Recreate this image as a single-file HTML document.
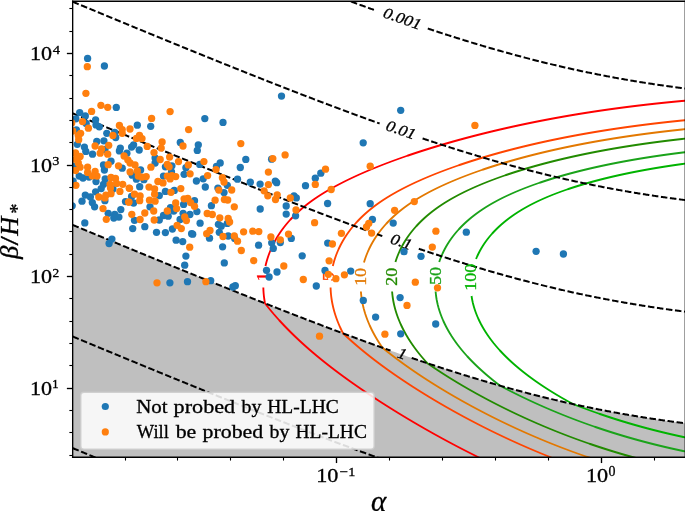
<!DOCTYPE html>
<html><head><meta charset="utf-8"><style>
html,body{margin:0;padding:0;background:#fff;}
body{width:685px;height:511px;overflow:hidden;font-family:"Liberation Serif",serif;}
svg{display:block;}
</style></head><body>
<svg width="685" height="511" viewBox="0 0 685 511" style="will-change:transform">
<defs><clipPath id="ax"><rect x="72.67" y="1.25" width="612.63" height="456"/></clipPath></defs>
<rect width="685" height="511" fill="#fff"/>
<g clip-path="url(#ax)">
<path d="M58.88 219.18 L61.52 220.28 L64.17 221.38 L66.81 222.48 L69.46 223.58 L72.1 224.68 L74.75 225.78 L77.39 226.88 L80.04 227.98 L82.68 229.08 L85.33 230.18 L87.97 231.28 L90.62 232.37 L93.26 233.47 L95.91 234.57 L98.55 235.67 L101.2 236.76 L103.84 237.86 L106.49 238.95 L109.13 240.05 L111.78 241.14 L114.42 242.24 L117.07 243.33 L119.71 244.42 L122.36 245.51 L125 246.61 L127.65 247.7 L130.29 248.79 L132.94 249.88 L135.58 250.97 L138.23 252.06 L140.87 253.15 L143.52 254.24 L146.16 255.32 L148.81 256.41 L151.45 257.5 L154.1 258.58 L156.74 259.67 L159.39 260.75 L162.03 261.84 L164.68 262.92 L167.32 264 L169.97 265.08 L172.61 266.17 L175.26 267.25 L177.9 268.33 L180.55 269.4 L183.19 270.48 L185.84 271.56 L188.48 272.64 L191.13 273.71 L193.77 274.79 L196.42 275.86 L199.06 276.93 L201.71 278.01 L204.35 279.08 L207 280.15 L209.64 281.22 L212.29 282.29 L214.93 283.35 L217.58 284.42 L220.22 285.49 L222.87 286.55 L225.51 287.61 L228.16 288.68 L230.8 289.74 L233.45 290.8 L236.09 291.86 L238.74 292.91 L241.38 293.97 L244.03 295.02 L246.67 296.08 L249.32 297.13 L251.96 298.18 L254.61 299.23 L257.25 300.28 L259.9 301.33 L262.54 302.37 L265.19 303.42 L267.83 304.46 L270.48 305.5 L273.12 306.54 L275.77 307.58 L278.41 308.62 L281.06 309.65 L283.7 310.68 L286.35 311.72 L288.99 312.75 L291.64 313.77 L294.28 314.8 L296.93 315.83 L299.57 316.85 L302.22 317.87 L304.86 318.89 L307.51 319.9 L310.15 320.92 L312.8 321.93 L315.44 322.94 L318.09 323.95 L320.73 324.96 L323.38 325.96 L326.02 326.96 L328.67 327.96 L331.31 328.96 L333.96 329.96 L336.6 330.95 L339.25 331.94 L341.89 332.93 L344.54 333.91 L347.18 334.9 L349.83 335.88 L352.47 336.85 L355.12 337.83 L357.76 338.8 L360.41 339.77 L363.05 340.74 L365.7 341.7 L368.34 342.66 L370.99 343.62 L373.63 344.57 L376.28 345.52 L378.92 346.47 L381.57 347.42 L384.21 348.36 L386.86 349.3 L389.5 350.23 L392.15 351.17 L394.79 352.09 L397.44 353.02 L400.08 353.94 L402.73 354.86 L405.37 355.77 L408.02 356.68 L410.66 357.59 L413.31 358.49 L415.95 359.39 L418.6 360.29 L421.24 361.18 L423.89 362.07 L426.53 362.95 L429.18 363.83 L431.82 364.7 L434.47 365.58 L437.11 366.44 L439.76 367.3 L442.4 368.16 L445.05 369.02 L447.69 369.86 L450.34 370.71 L452.98 371.55 L455.63 372.38 L458.27 373.21 L460.92 374.04 L463.56 374.86 L466.21 375.68 L468.85 376.49 L471.5 377.29 L474.14 378.09 L476.79 378.89 L479.43 379.68 L482.08 380.47 L484.72 381.25 L487.37 382.02 L490.01 382.79 L492.66 383.56 L495.3 384.32 L497.95 385.07 L500.59 385.82 L503.24 386.56 L505.88 387.3 L508.53 388.03 L511.17 388.76 L513.82 389.48 L516.46 390.19 L519.11 390.9 L521.75 391.6 L524.4 392.3 L527.04 392.99 L529.69 393.68 L532.33 394.36 L534.98 395.03 L537.62 395.7 L540.27 396.36 L542.91 397.02 L545.56 397.67 L548.2 398.31 L550.85 398.95 L553.49 399.58 L556.13 400.2 L558.78 400.82 L561.43 401.44 L564.07 402.04 L566.72 402.64 L569.36 403.24 L572.01 403.82 L574.65 404.41 L577.3 404.98 L579.94 405.55 L582.59 406.11 L585.23 406.67 L587.88 407.22 L590.52 407.77 L593.17 408.31 L595.81 408.84 L598.46 409.36 L601.1 409.88 L603.75 410.4 L606.39 410.9 L609.04 411.4 L611.68 411.9 L614.33 412.39 L616.97 412.87 L619.62 413.35 L622.26 413.82 L624.91 414.28 L627.55 414.74 L630.19 415.19 L632.84 415.64 L635.49 416.08 L638.13 416.51 L640.78 416.94 L643.42 417.36 L646.07 417.78 L648.71 418.19 L651.36 418.59 L654 418.99 L656.64 419.39 L659.29 419.77 L661.94 420.16 L664.58 420.53 L667.23 420.9 L669.87 421.27 L672.51 421.63 L675.16 421.98 L677.81 422.33 L680.45 422.68 L683.1 423.02 L685.74 423.35 L688.38 423.68 L691.03 424 L693.68 424.32 L693.68 470 L58.88 470 Z" fill="#bfbfbf"/>
<path d="M482 459 L480.98 458.5 L479.96 458 L478.95 457.5 L477.93 457 L476.92 456.5 L475.92 456 L474.91 455.5 L473.91 455 L472.91 454.5 L471.92 454 L470.93 453.5 L469.94 453 L468.95 452.5 L467.96 452 L466.98 451.5 L466 451 L465.03 450.5 L464.05 450 L463.08 449.5 L462.11 449 L461.14 448.5 L460.18 448 L459.22 447.5 L458.26 447 L457.3 446.5 L456.35 446 L455.4 445.5 L454.45 445 L453.5 444.5 L452.56 444 L451.62 443.5 L450.68 443 L449.74 442.5 L448.81 442 L447.88 441.5 L446.95 441 L446.02 440.5 L445.09 440 L444.17 439.5 L443.25 439 L442.33 438.5 L441.41 438 L440.5 437.5 L439.59 437 L438.68 436.5 L437.77 436 L436.87 435.5 L435.96 435 L435.06 434.5 L434.16 434 L433.27 433.5 L432.37 433 L431.48 432.5 L430.59 432 L429.7 431.5 L428.82 431 L427.93 430.5 L427.05 430 L426.17 429.5 L425.29 429 L424.42 428.5 L423.54 428 L422.67 427.5 L421.8 427 L420.93 426.5 L420.07 426 L419.2 425.5 L418.34 425 L417.48 424.5 L416.62 424 L415.77 423.5 L414.91 423 L414.06 422.5 L413.21 422 L412.36 421.5 L411.52 421 L410.67 420.5 L409.83 420 L408.99 419.5 L408.15 419 L407.31 418.5 L406.48 418 L405.64 417.5 L404.81 417 L403.98 416.5 L403.16 416 L402.33 415.5 L401.51 415 L400.68 414.5 L399.86 414 L399.04 413.5 L398.23 413 L397.41 412.5 L396.6 412 L395.79 411.5 L394.98 411 L394.17 410.5 L393.36 410 L392.56 409.5 L391.76 409 L390.96 408.5 L390.16 408 L389.36 407.5 L388.57 407 L387.77 406.5 L386.98 406 L386.19 405.5 L385.4 405 L384.61 404.5 L383.83 404 L383.05 403.5 L382.27 403 L381.49 402.5 L380.71 402 L379.93 401.5 L379.16 401 L378.38 400.5 L377.61 400 L376.84 399.5 L376.08 399 L375.31 398.5 L374.55 398 L373.78 397.5 L373.02 397 L372.27 396.5 L371.51 396 L370.75 395.5 L370 395 L369.25 394.5 L368.5 394 L367.75 393.5 L367.01 393 L366.26 392.5 L365.52 392 L364.78 391.5 L364.04 391 L363.3 390.5 L362.57 390 L361.83 389.5 L361.1 389 L360.37 388.5 L359.64 388 L358.92 387.5 L358.19 387 L357.47 386.5 L356.75 386 L356.03 385.5 L355.31 385 L354.6 384.5 L353.88 384 L353.17 383.5 L352.46 383 L351.75 382.5 L351.05 382 L350.34 381.5 L349.64 381 L348.94 380.5 L348.24 380 L347.54 379.5 L346.85 379 L346.16 378.5 L345.47 378 L344.78 377.5 L344.09 377 L343.4 376.5 L342.72 376 L342.04 375.5 L341.36 375 L340.68 374.5 L340.01 374 L339.33 373.5 L338.66 373 L337.99 372.5 L337.32 372 L336.66 371.5 L335.99 371 L335.33 370.5 L334.67 370 L334.01 369.5 L333.35 369 L332.7 368.5 L332.05 368 L331.4 367.5 L330.75 367 L330.1 366.5 L329.46 366 L328.81 365.5 L328.17 365 L327.54 364.5 L326.9 364 L326.27 363.5 L325.63 363 L325 362.5 L324.37 362 L323.75 361.5 L323.12 361 L322.5 360.5 L321.88 360 L321.26 359.5 L320.65 359 L320.03 358.5 L319.42 358 L318.81 357.5 L318.2 357 L317.6 356.5 L317 356 L316.39 355.5 L315.79 355 L315.2 354.5 L314.6 354 L314.01 353.5 L313.42 353 L312.83 352.5 L312.24 352 L311.66 351.5 L311.08 351 L310.5 350.5 L309.92 350 L309.34 349.5 L308.77 349 L308.2 348.5 L307.63 348 L307.06 347.5 L306.49 347 L305.93 346.5 L305.37 346 L304.81 345.5 L304.25 345 L303.7 344.5 L303.15 344 L302.59 343.5 L302.05 343 L301.5 342.5 L300.95 342 L300.41 341.5 L299.87 341 L299.33 340.5 L298.8 340 L298.26 339.5 L297.73 339 L297.2 338.5 L296.67 338 L296.14 337.5 L295.62 337 L295.1 336.5 L294.58 336 L294.06 335.5 L293.54 335 L293.03 334.5 L292.52 334 L292.01 333.5 L291.5 333 L290.99 332.5 L290.49 332 L289.99 331.5 L289.49 331 L288.99 330.5 L288.5 330 L288 329.5 L287.51 329 L287.02 328.5 L286.53 328 L286.05 327.5 L285.57 327 L285.08 326.5 L284.6 326 L284.13 325.5 L283.65 325 L283.18 324.5 L282.71 324 L282.24 323.5 L281.77 323 L281.31 322.5 L280.84 322 L280.38 321.5 L279.92 321 L279.46 320.5 L279.01 320 L278.56 319.5 L278.11 319 L277.66 318.5 L277.21 318 L276.76 317.5 L276.32 317 L275.88 316.5 L275.44 316 L275 315.5 L274.57 315 L274.14 314.5 L273.7 314 L273.28 313.5 L272.85 313 L272.42 312.5 L272 312 L271.58 311.5 L271.16 311 L270.74 310.5 L270.33 310 L269.92 309.5 L269.5 309 L269.1 308.5 L268.69 308 L268.28 307.5 L267.88 307 L267.48 306.5 L267.08 306 L266.68 305.5 L266.29 305 L265.9 304.5 L265.51 304 L265.12 303.5 L264.93 303 L264.84 302.5 L264.75 302 L264.67 301.5 L264.58 301 L264.5 300.5 L264.43 300 L264.35 299.5 L264.28 299 L264.21 298.5 L264.14 298 L264.07 297.5 L264.01 297 L263.95 296.5 L263.9 296 L263.84 295.5 L263.79 295 L263.74 294.5 L263.69 294 L263.65 293.5 L263.61 293 L263.57 292.5 L263.54 292 L263.5 291.5 L263.47 291 L263.44 290.5 L263.42 290 L263.4 289.5 L263.38 289 L263.36 288.5 L263.34 288 L263.33 287.5" fill="none" stroke="#ff0000" stroke-width="1.85" stroke-linejoin="round"/>
<path d="M265.48 266 L265.59 265.5 L265.71 265 L265.83 264.5 L265.95 264 L266.08 263.5 L266.21 263 L266.34 262.5 L266.48 262 L266.61 261.5 L266.76 261 L266.9 260.5 L267.05 260 L267.2 259.5 L267.35 259 L267.51 258.5 L267.67 258 L267.83 257.5 L267.99 257 L268.16 256.5 L268.33 256 L268.51 255.5 L268.69 255 L268.87 254.5 L269.05 254 L269.24 253.5 L269.43 253 L269.62 252.5 L269.82 252 L270.01 251.5 L270.22 251 L270.42 250.5 L270.63 250 L270.84 249.5 L271.06 249 L271.28 248.5 L271.5 248 L271.72 247.5 L271.95 247 L272.18 246.5 L272.42 246 L272.66 245.5 L272.9 245 L273.14 244.5 L273.39 244 L273.64 243.5 L273.9 243 L274.16 242.5 L274.42 242 L274.69 241.5 L274.96 241 L275.24 240.5 L275.52 240 L275.8 239.5 L276.08 239 L276.37 238.5 L276.67 238 L276.97 237.5 L277.27 237 L277.57 236.5 L277.88 236 L278.2 235.5 L278.51 235 L278.83 234.5 L279.16 234 L279.49 233.5 L279.82 233 L280.16 232.5 L280.5 232 L280.85 231.5 L281.2 231 L281.55 230.5 L281.91 230 L282.28 229.5 L282.65 229 L283.02 228.5 L283.39 228 L283.77 227.5 L284.16 227 L284.55 226.5 L284.94 226 L285.34 225.5 L285.75 225 L286.16 224.5 L286.57 224 L286.99 223.5 L287.41 223 L287.84 222.5 L288.27 222 L288.71 221.5 L289.15 221 L289.6 220.5 L290.05 220 L290.51 219.5 L290.97 219 L291.44 218.5 L291.91 218 L292.39 217.5 L292.88 217 L293.36 216.5 L293.86 216 L294.36 215.5 L294.87 215 L295.38 214.5 L295.9 214 L296.42 213.5 L296.95 213 L297.48 212.5 L298.02 212 L298.57 211.5 L299.12 211 L299.68 210.5 L300.25 210 L300.82 209.5 L301.4 209 L301.99 208.5 L302.58 208 L303.17 207.5 L303.78 207 L304.39 206.5 L305.01 206 L305.63 205.5 L306.27 205 L306.91 204.5 L307.55 204 L308.21 203.5 L308.87 203 L309.53 202.5 L310.21 202 L310.89 201.5 L311.58 201 L312.28 200.5 L312.99 200 L313.7 199.5 L314.42 199 L315.15 198.5 L315.88 198 L316.63 197.5 L317.38 197 L318.14 196.5 L318.9 196 L319.68 195.5 L320.46 195 L321.25 194.5 L322.04 194 L322.85 193.5 L323.66 193 L324.48 192.5 L325.31 192 L326.14 191.5 L326.99 191 L327.84 190.5 L328.7 190 L329.57 189.5 L330.44 189 L331.32 188.5 L332.22 188 L333.11 187.5 L334.02 187 L334.94 186.5 L335.86 186 L336.79 185.5 L337.73 185 L338.68 184.5 L339.63 184 L340.6 183.5 L341.57 183 L342.55 182.5 L343.53 182 L344.53 181.5 L345.53 181 L346.55 180.5 L347.57 180 L348.59 179.5 L349.63 179 L350.68 178.5 L351.73 178 L352.79 177.5 L353.86 177 L354.94 176.5 L356.03 176 L357.12 175.5 L358.23 175 L359.34 174.5 L360.46 174 L361.59 173.5 L362.72 173 L363.87 172.5 L365.02 172 L366.19 171.5 L367.36 171 L368.54 170.5 L369.73 170 L370.92 169.5 L372.13 169 L373.34 168.5 L374.57 168 L375.8 167.5 L377.04 167 L378.29 166.5 L379.55 166 L380.82 165.5 L382.09 165 L383.38 164.5 L384.67 164 L385.98 163.5 L387.29 163 L388.61 162.5 L389.94 162 L391.28 161.5 L392.63 161 L393.99 160.5 L395.36 160 L396.74 159.5 L398.13 159 L399.52 158.5 L400.93 158 L402.34 157.5 L403.77 157 L405.21 156.5 L406.65 156 L408.11 155.5 L409.57 155 L411.05 154.5 L412.53 154 L414.03 153.5 L415.54 153 L417.05 152.5 L418.58 152 L420.12 151.5 L421.67 151 L423.23 150.5 L424.8 150 L426.38 149.5 L427.97 149 L429.57 148.5 L431.19 148 L432.81 147.5 L434.45 147 L436.1 146.5 L437.76 146 L439.43 145.5 L441.11 145 L442.81 144.5 L444.52 144 L446.24 143.5 L447.97 143 L449.71 142.5 L451.47 142 L453.24 141.5 L455.03 141 L456.82 140.5 L458.63 140 L460.46 139.5 L462.3 139 L464.15 138.5 L466.01 138 L467.89 137.5 L469.79 137 L471.69 136.5 L473.62 136 L475.56 135.5 L477.51 135 L479.48 134.5 L481.47 134 L483.47 133.5 L485.49 133 L487.52 132.5 L489.58 132 L491.65 131.5 L493.73 131 L495.84 130.5 L497.96 130 L500.11 129.5 L502.27 129 L504.45 128.5 L506.65 128 L508.87 127.5 L511.12 127 L513.38 126.5 L515.67 126 L517.97 125.5 L520.3 125 L522.66 124.5 L525.04 124 L527.44 123.5 L529.87 123 L532.32 122.5 L534.8 122 L537.31 121.5 L539.84 121 L542.41 120.5 L545 120 L547.63 119.5 L550.28 119 L552.97 118.5 L555.69 118 L558.45 117.5 L561.24 117 L564.07 116.5 L566.93 116 L569.84 115.5 L572.78 115 L575.77 114.5 L578.8 114 L581.88 113.5 L585 113 L588.17 112.5 L591.4 112 L594.67 111.5 L598.01 111 L601.4 110.5 L604.84 110 L608.36 109.5 L611.93 109 L615.58 108.5 L619.3 108 L623.1 107.5 L626.97 107 L630.93 106.5 L634.98 106 L639.12 105.5 L643.36 105 L647.71 104.5 L652.17 104 L656.74 103.5 L661.45 103 L666.29 102.5 L671.27 102 L676.41 101.5 L681.72 101 L687.2 100.5 L692.89 100" fill="none" stroke="#ff0000" stroke-width="1.85" stroke-linejoin="round"/>
<path d="M555.05 459 L553.77 458.5 L552.49 458 L551.23 457.5 L549.97 457 L548.71 456.5 L547.46 456 L546.22 455.5 L544.99 455 L543.76 454.5 L542.53 454 L541.31 453.5 L540.1 453 L538.89 452.5 L537.69 452 L536.5 451.5 L535.31 451 L534.12 450.5 L532.94 450 L531.76 449.5 L530.59 449 L529.43 448.5 L528.27 448 L527.12 447.5 L525.97 447 L524.82 446.5 L523.68 446 L522.54 445.5 L521.41 445 L520.29 444.5 L519.17 444 L518.05 443.5 L516.94 443 L515.83 442.5 L514.72 442 L513.62 441.5 L512.53 441 L511.44 440.5 L510.35 440 L509.27 439.5 L508.19 439 L507.11 438.5 L506.04 438 L504.98 437.5 L503.91 437 L502.86 436.5 L501.8 436 L500.75 435.5 L499.7 435 L498.66 434.5 L497.62 434 L496.58 433.5 L495.55 433 L494.52 432.5 L493.5 432 L492.48 431.5 L491.46 431 L490.44 430.5 L489.43 430 L488.42 429.5 L487.42 429 L486.42 428.5 L485.42 428 L484.43 427.5 L483.44 427 L482.45 426.5 L481.47 426 L480.48 425.5 L479.51 425 L478.53 424.5 L477.56 424 L476.59 423.5 L475.63 423 L474.66 422.5 L473.71 422 L472.75 421.5 L471.8 421 L470.85 420.5 L469.9 420 L468.95 419.5 L468.01 419 L467.08 418.5 L466.14 418 L465.21 417.5 L464.28 417 L463.35 416.5 L462.43 416 L461.51 415.5 L460.59 415 L459.67 414.5 L458.76 414 L457.85 413.5 L456.94 413 L456.04 412.5 L455.13 412 L454.23 411.5 L453.34 411 L452.44 410.5 L451.55 410 L450.66 409.5 L449.78 409 L448.89 408.5 L448.01 408 L447.13 407.5 L446.26 407 L445.38 406.5 L444.51 406 L443.64 405.5 L442.78 405 L441.91 404.5 L441.05 404 L440.19 403.5 L439.34 403 L438.48 402.5 L437.63 402 L436.78 401.5 L435.94 401 L435.09 400.5 L434.25 400 L433.41 399.5 L432.58 399 L431.74 398.5 L430.91 398 L430.08 397.5 L429.25 397 L428.43 396.5 L427.61 396 L426.79 395.5 L425.97 395 L425.15 394.5 L424.34 394 L423.53 393.5 L422.72 393 L421.92 392.5 L421.11 392 L420.31 391.5 L419.51 391 L418.72 390.5 L417.92 390 L417.13 389.5 L416.34 389 L415.55 388.5 L414.77 388 L413.99 387.5 L413.21 387 L412.43 386.5 L411.65 386 L410.88 385.5 L410.11 385 L409.34 384.5 L408.57 384 L407.81 383.5 L407.05 383 L406.29 382.5 L405.53 382 L404.78 381.5 L404.03 381 L403.28 380.5 L402.53 380 L401.78 379.5 L401.04 379 L400.3 378.5 L399.56 378 L398.83 377.5 L398.09 377 L397.36 376.5 L396.63 376 L395.91 375.5 L395.18 375 L394.46 374.5 L393.74 374 L393.02 373.5 L392.31 373 L391.59 372.5 L390.88 372 L390.17 371.5 L389.47 371 L388.77 370.5 L388.06 370 L387.37 369.5 L386.67 369 L385.97 368.5 L385.28 368 L384.59 367.5 L383.91 367 L383.22 366.5 L382.54 366 L381.86 365.5 L381.18 365 L380.5 364.5 L379.83 364 L379.16 363.5 L378.49 363 L377.83 362.5 L377.16 362 L376.5 361.5 L375.84 361 L375.18 360.5 L374.53 360 L373.88 359.5 L373.23 359 L372.58 358.5 L371.94 358 L371.29 357.5 L370.65 357 L370.02 356.5 L369.38 356 L368.75 355.5 L368.12 355 L367.49 354.5 L366.86 354 L366.24 353.5 L365.62 353 L365 352.5 L364.38 352 L363.77 351.5 L363.16 351 L362.55 350.5 L361.94 350 L361.34 349.5 L360.74 349 L360.14 348.5 L359.54 348 L358.94 347.5 L358.35 347 L357.76 346.5 L357.17 346 L356.59 345.5 L356 345 L355.42 344.5 L354.84 344 L354.27 343.5 L353.69 343 L353.12 342.5 L352.55 342 L351.98 341.5 L351.42 341 L350.86 340.5 L350.29 340 L349.74 339.5 L349.18 339 L348.63 338.5 L348.07 338 L347.53 337.5 L346.98 337 L346.43 336.5 L345.89 336 L345.35 335.5 L344.81 335 L344.28 334.5 L343.74 334 L343.21 333.5 L342.88 333 L342.63 332.5 L342.37 332 L342.12 331.5 L341.87 331 L341.63 330.5 L341.39 330 L341.15 329.5 L340.91 329 L340.68 328.5 L340.44 328 L340.21 327.5 L339.99 327 L339.76 326.5 L339.54 326 L339.32 325.5 L339.11 325 L338.9 324.5 L338.69 324 L338.48 323.5 L338.27 323 L338.07 322.5 L337.87 322 L337.67 321.5 L337.48 321 L337.29 320.5 L337.1 320 L336.91 319.5 L336.73 319 L336.55 318.5 L336.37 318 L336.19 317.5 L336.02 317 L335.85 316.5 L335.68 316 L335.52 315.5 L335.35 315 L335.19 314.5 L335.04 314 L334.88 313.5 L334.73 313 L334.58 312.5 L334.43 312 L334.29 311.5 L334.15 311 L334.01 310.5 L333.88 310 L333.74 309.5 L333.61 309 L333.48 308.5 L333.36 308 L333.24 307.5 L333.12 307 L333 306.5 L332.89 306 L332.78 305.5 L332.67 305 L332.56 304.5 L332.46 304 L332.36 303.5 L332.26 303 L332.16 302.5 L332.07 302 L331.98 301.5 L331.89 301 L331.81 300.5 L331.73 300 L331.65 299.5 L331.57 299 L331.5 298.5 L331.43 298 L331.36 297.5 L331.3 297 L331.23 296.5 L331.17 296 L331.12 295.5 L331.06 295 L331.01 294.5 L330.96 294 L330.92 293.5 L330.87 293 L330.83 292.5 L330.8 292 L330.76 291.5 L330.73 291 L330.7 290.5 L330.67 290 L330.65 289.5 L330.63 289 L330.61 288.5 L330.6 288 L330.58 287.5" fill="none" stroke="#ff4500" stroke-width="1.85" stroke-linejoin="round"/>
<path d="M332.83 266 L332.95 265.5 L333.08 265 L333.2 264.5 L333.33 264 L333.46 263.5 L333.6 263 L333.74 262.5 L333.88 262 L334.02 261.5 L334.17 261 L334.32 260.5 L334.48 260 L334.64 259.5 L334.8 259 L334.96 258.5 L335.13 258 L335.3 257.5 L335.47 257 L335.65 256.5 L335.83 256 L336.01 255.5 L336.2 255 L336.39 254.5 L336.58 254 L336.78 253.5 L336.98 253 L337.18 252.5 L337.39 252 L337.59 251.5 L337.81 251 L338.02 250.5 L338.24 250 L338.46 249.5 L338.69 249 L338.92 248.5 L339.15 248 L339.39 247.5 L339.63 247 L339.87 246.5 L340.12 246 L340.37 245.5 L340.62 245 L340.88 244.5 L341.15 244 L341.41 243.5 L341.68 243 L341.95 242.5 L342.23 242 L342.51 241.5 L342.8 241 L343.09 240.5 L343.38 240 L343.68 239.5 L343.98 239 L344.29 238.5 L344.59 238 L344.91 237.5 L345.23 237 L345.55 236.5 L345.87 236 L346.2 235.5 L346.54 235 L346.88 234.5 L347.22 234 L347.57 233.5 L347.92 233 L348.28 232.5 L348.64 232 L349.01 231.5 L349.38 231 L349.75 230.5 L350.13 230 L350.51 229.5 L350.9 229 L351.29 228.5 L351.69 228 L352.1 227.5 L352.5 227 L352.92 226.5 L353.33 226 L353.76 225.5 L354.18 225 L354.62 224.5 L355.05 224 L355.5 223.5 L355.94 223 L356.4 222.5 L356.85 222 L357.32 221.5 L357.79 221 L358.26 220.5 L358.74 220 L359.23 219.5 L359.72 219 L360.21 218.5 L360.72 218 L361.22 217.5 L361.74 217 L362.26 216.5 L362.78 216 L363.32 215.5 L363.85 215 L364.4 214.5 L364.95 214 L365.51 213.5 L366.07 213 L366.64 212.5 L367.22 212 L367.8 211.5 L368.39 211 L368.98 210.5 L369.59 210 L370.2 209.5 L370.81 209 L371.44 208.5 L372.07 208 L372.71 207.5 L373.35 207 L374.01 206.5 L374.67 206 L375.34 205.5 L376.01 205 L376.7 204.5 L377.39 204 L378.09 203.5 L378.8 203 L379.51 202.5 L380.24 202 L380.97 201.5 L381.71 201 L382.46 200.5 L383.22 200 L383.98 199.5 L384.76 199 L385.54 198.5 L386.33 198 L387.13 197.5 L387.94 197 L388.76 196.5 L389.59 196 L390.42 195.5 L391.26 195 L392.12 194.5 L392.98 194 L393.85 193.5 L394.73 193 L395.61 192.5 L396.51 192 L397.42 191.5 L398.33 191 L399.26 190.5 L400.19 190 L401.13 189.5 L402.08 189 L403.04 188.5 L404.01 188 L404.99 187.5 L405.98 187 L406.98 186.5 L407.99 186 L409 185.5 L410.03 185 L411.07 184.5 L412.11 184 L413.17 183.5 L414.23 183 L415.31 182.5 L416.39 182 L417.48 181.5 L418.59 181 L419.7 180.5 L420.83 180 L421.96 179.5 L423.11 179 L424.26 178.5 L425.43 178 L426.6 177.5 L427.79 177 L428.98 176.5 L430.19 176 L431.41 175.5 L432.63 175 L433.87 174.5 L435.12 174 L436.38 173.5 L437.65 173 L438.93 172.5 L440.23 172 L441.53 171.5 L442.85 171 L444.17 170.5 L445.51 170 L446.86 169.5 L448.22 169 L449.59 168.5 L450.98 168 L452.37 167.5 L453.78 167 L455.2 166.5 L456.63 166 L458.07 165.5 L459.53 165 L461 164.5 L462.48 164 L463.98 163.5 L465.48 163 L467.01 162.5 L468.54 162 L470.09 161.5 L471.65 161 L473.22 160.5 L474.81 160 L476.41 159.5 L478.03 159 L479.66 158.5 L481.3 158 L482.96 157.5 L484.64 157 L486.32 156.5 L488.03 156 L489.75 155.5 L491.49 155 L493.24 154.5 L495.01 154 L496.79 153.5 L498.59 153 L500.41 152.5 L502.25 152 L504.1 151.5 L505.97 151 L507.86 150.5 L509.77 150 L511.7 149.5 L513.64 149 L515.61 148.5 L517.6 148 L519.6 147.5 L521.63 147 L523.68 146.5 L525.75 146 L527.84 145.5 L529.95 145 L532.09 144.5 L534.25 144 L536.43 143.5 L538.64 143 L540.88 142.5 L543.14 142 L545.42 141.5 L547.73 141 L550.08 140.5 L552.44 140 L554.84 139.5 L557.27 139 L559.73 138.5 L562.22 138 L564.74 137.5 L567.3 137 L569.89 136.5 L572.52 136 L575.18 135.5 L577.88 135 L580.63 134.5 L583.41 134 L586.23 133.5 L589.1 133 L592.01 132.5 L594.97 132 L597.98 131.5 L601.03 131 L604.14 130.5 L607.31 130 L610.53 129.5 L613.81 129 L617.15 128.5 L620.56 128 L624.03 127.5 L627.58 127 L631.2 126.5 L634.89 126 L638.67 125.5 L642.54 125 L646.49 124.5 L650.54 124 L654.7 123.5 L658.96 123 L663.34 122.5 L667.83 122 L672.46 121.5 L677.23 121 L682.14 120.5 L687.21 120 L692.46 119.5" fill="none" stroke="#ff4500" stroke-width="1.85" stroke-linejoin="round"/>
<path d="M593.36 459 L591.87 458.5 L590.39 458 L588.91 457.5 L587.45 457 L586 456.5 L584.55 456 L583.12 455.5 L581.69 455 L580.28 454.5 L578.87 454 L577.47 453.5 L576.08 453 L574.7 452.5 L573.32 452 L571.96 451.5 L570.6 451 L569.25 450.5 L567.91 450 L566.58 449.5 L565.25 449 L563.93 448.5 L562.62 448 L561.32 447.5 L560.02 447 L558.73 446.5 L557.45 446 L556.17 445.5 L554.9 445 L553.64 444.5 L552.39 444 L551.14 443.5 L549.89 443 L548.66 442.5 L547.43 442 L546.2 441.5 L544.98 441 L543.77 440.5 L542.56 440 L541.36 439.5 L540.17 439 L538.98 438.5 L537.8 438 L536.62 437.5 L535.44 437 L534.28 436.5 L533.12 436 L531.96 435.5 L530.81 435 L529.66 434.5 L528.52 434 L527.38 433.5 L526.25 433 L525.13 432.5 L524 432 L522.89 431.5 L521.78 431 L520.67 430.5 L519.57 430 L518.47 429.5 L517.37 429 L516.29 428.5 L515.2 428 L514.12 427.5 L513.05 427 L511.97 426.5 L510.91 426 L509.85 425.5 L508.79 425 L507.73 424.5 L506.68 424 L505.64 423.5 L504.59 423 L503.56 422.5 L502.52 422 L501.49 421.5 L500.46 421 L499.44 420.5 L498.42 420 L497.41 419.5 L496.4 419 L495.39 418.5 L494.39 418 L493.39 417.5 L492.39 417 L491.4 416.5 L490.41 416 L489.42 415.5 L488.44 415 L487.46 414.5 L486.48 414 L485.51 413.5 L484.54 413 L483.58 412.5 L482.62 412 L481.66 411.5 L480.7 411 L479.75 410.5 L478.8 410 L477.86 409.5 L476.92 409 L475.98 408.5 L475.04 408 L474.11 407.5 L473.18 407 L472.25 406.5 L471.33 406 L470.41 405.5 L469.49 405 L468.58 404.5 L467.67 404 L466.76 403.5 L465.85 403 L464.95 402.5 L464.05 402 L463.15 401.5 L462.26 401 L461.37 400.5 L460.48 400 L459.6 399.5 L458.71 399 L457.84 398.5 L456.96 398 L456.09 397.5 L455.22 397 L454.35 396.5 L453.48 396 L452.62 395.5 L451.76 395 L450.9 394.5 L450.05 394 L449.2 393.5 L448.35 393 L447.51 392.5 L446.66 392 L445.82 391.5 L444.99 391 L444.15 390.5 L443.32 390 L442.49 389.5 L441.67 389 L440.84 388.5 L440.02 388 L439.2 387.5 L438.39 387 L437.57 386.5 L436.76 386 L435.96 385.5 L435.15 385 L434.35 384.5 L433.55 384 L432.75 383.5 L431.96 383 L431.17 382.5 L430.38 382 L429.59 381.5 L428.81 381 L428.03 380.5 L427.25 380 L426.47 379.5 L425.7 379 L424.93 378.5 L424.16 378 L423.4 377.5 L422.63 377 L421.87 376.5 L421.11 376 L420.36 375.5 L419.61 375 L418.86 374.5 L418.11 374 L417.37 373.5 L416.62 373 L415.88 372.5 L415.15 372 L414.41 371.5 L413.68 371 L412.95 370.5 L412.22 370 L411.5 369.5 L410.78 369 L410.06 368.5 L409.34 368 L408.63 367.5 L407.92 367 L407.21 366.5 L406.5 366 L405.8 365.5 L405.1 365 L404.4 364.5 L403.7 364 L403.01 363.5 L402.32 363 L401.63 362.5 L400.94 362 L400.26 361.5 L399.58 361 L398.9 360.5 L398.23 360 L397.55 359.5 L396.88 359 L396.22 358.5 L395.55 358 L394.89 357.5 L394.23 357 L393.57 356.5 L392.91 356 L392.26 355.5 L391.61 355 L390.97 354.5 L390.32 354 L389.68 353.5 L389.04 353 L388.4 352.5 L387.77 352 L387.14 351.5 L386.51 351 L385.88 350.5 L385.25 350 L384.63 349.5 L384.01 349 L383.4 348.5 L382.78 348 L382.3 347.5 L381.95 347 L381.61 346.5 L381.27 346 L380.93 345.5 L380.6 345 L380.27 344.5 L379.94 344 L379.61 343.5 L379.29 343 L378.97 342.5 L378.65 342 L378.34 341.5 L378.03 341 L377.72 340.5 L377.41 340 L377.11 339.5 L376.81 339 L376.51 338.5 L376.21 338 L375.92 337.5 L375.63 337 L375.35 336.5 L375.06 336 L374.78 335.5 L374.5 335 L374.23 334.5 L373.95 334 L373.68 333.5 L373.42 333 L373.15 332.5 L372.89 332 L372.63 331.5 L372.38 331 L372.12 330.5 L371.87 330 L371.62 329.5 L371.38 329 L371.14 328.5 L370.9 328 L370.66 327.5 L370.43 327 L370.2 326.5 L369.97 326 L369.74 325.5 L369.52 325 L369.3 324.5 L369.08 324 L368.87 323.5 L368.66 323 L368.45 322.5 L368.24 322 L368.04 321.5 L367.84 321 L367.64 320.5 L367.44 320 L367.25 319.5 L367.06 319 L366.87 318.5 L366.69 318 L366.51 317.5 L366.33 317 L366.15 316.5 L365.98 316 L365.81 315.5 L365.64 315 L365.48 314.5 L365.31 314 L365.16 313.5 L365 313 L364.84 312.5 L364.69 312 L364.55 311.5 L364.4 311 L364.26 310.5 L364.12 310 L363.98 309.5 L363.85 309 L363.71 308.5 L363.59 308 L363.46 307.5 L363.34 307 L363.22 306.5 L363.1 306 L362.98 305.5 L362.87 305 L362.76 304.5 L362.66 304 L362.55 303.5 L362.45 303 L362.35 302.5 L362.26 302 L362.16 301.5 L362.07 301 L361.99 300.5 L361.9 300 L361.82 299.5 L361.74 299 L361.67 298.5 L361.6 298 L361.53 297.5 L361.46 297 L361.39 296.5 L361.33 296 L361.27 295.5 L361.22 295 L361.16 294.5 L361.11 294 L361.07 293.5 L361.02 293 L360.98 292.5 L360.94 292 L360.91 291.5" fill="none" stroke="#e37800" stroke-width="1.85" stroke-linejoin="round"/>
<path d="M363.98 262.5 L364.12 262 L364.27 261.5 L364.42 261 L364.58 260.5 L364.74 260 L364.9 259.5 L365.07 259 L365.24 258.5 L365.41 258 L365.59 257.5 L365.76 257 L365.95 256.5 L366.13 256 L366.32 255.5 L366.51 255 L366.71 254.5 L366.91 254 L367.11 253.5 L367.32 253 L367.53 252.5 L367.74 252 L367.96 251.5 L368.17 251 L368.4 250.5 L368.62 250 L368.85 249.5 L369.09 249 L369.32 248.5 L369.56 248 L369.81 247.5 L370.06 247 L370.31 246.5 L370.56 246 L370.82 245.5 L371.09 245 L371.35 244.5 L371.62 244 L371.9 243.5 L372.18 243 L372.46 242.5 L372.75 242 L373.04 241.5 L373.33 241 L373.63 240.5 L373.93 240 L374.24 239.5 L374.55 239 L374.87 238.5 L375.19 238 L375.51 237.5 L375.84 237 L376.18 236.5 L376.51 236 L376.86 235.5 L377.2 235 L377.55 234.5 L377.91 234 L378.27 233.5 L378.63 233 L379 232.5 L379.38 232 L379.75 231.5 L380.14 231 L380.53 230.5 L380.92 230 L381.32 229.5 L381.72 229 L382.13 228.5 L382.54 228 L382.96 227.5 L383.38 227 L383.81 226.5 L384.24 226 L384.68 225.5 L385.12 225 L385.57 224.5 L386.02 224 L386.48 223.5 L386.95 223 L387.42 222.5 L387.89 222 L388.38 221.5 L388.86 221 L389.36 220.5 L389.85 220 L390.36 219.5 L390.87 219 L391.38 218.5 L391.91 218 L392.44 217.5 L392.97 217 L393.51 216.5 L394.06 216 L394.61 215.5 L395.17 215 L395.74 214.5 L396.31 214 L396.89 213.5 L397.48 213 L398.07 212.5 L398.67 212 L399.28 211.5 L399.89 211 L400.51 210.5 L401.14 210 L401.78 209.5 L402.42 209 L403.08 208.5 L403.73 208 L404.4 207.5 L405.08 207 L405.76 206.5 L406.45 206 L407.15 205.5 L407.85 205 L408.57 204.5 L409.29 204 L410.03 203.5 L410.77 203 L411.52 202.5 L412.27 202 L413.04 201.5 L413.82 201 L414.6 200.5 L415.4 200 L416.2 199.5 L417.01 199 L417.83 198.5 L418.67 198 L419.51 197.5 L420.35 197 L421.21 196.5 L422.08 196 L422.96 195.5 L423.85 195 L424.74 194.5 L425.65 194 L426.57 193.5 L427.49 193 L428.43 192.5 L429.37 192 L430.33 191.5 L431.29 191 L432.27 190.5 L433.25 190 L434.25 189.5 L435.25 189 L436.27 188.5 L437.3 188 L438.33 187.5 L439.38 187 L440.44 186.5 L441.5 186 L442.58 185.5 L443.67 185 L444.77 184.5 L445.88 184 L447 183.5 L448.14 183 L449.28 182.5 L450.44 182 L451.6 181.5 L452.78 181 L453.97 180.5 L455.17 180 L456.38 179.5 L457.6 179 L458.84 178.5 L460.08 178 L461.34 177.5 L462.61 177 L463.9 176.5 L465.19 176 L466.5 175.5 L467.82 175 L469.15 174.5 L470.5 174 L471.85 173.5 L473.22 173 L474.61 172.5 L476 172 L477.41 171.5 L478.84 171 L480.27 170.5 L481.72 170 L483.19 169.5 L484.67 169 L486.16 168.5 L487.67 168 L489.19 167.5 L490.72 167 L492.27 166.5 L493.84 166 L495.42 165.5 L497.02 165 L498.63 164.5 L500.26 164 L501.9 163.5 L503.56 163 L505.24 162.5 L506.93 162 L508.64 161.5 L510.37 161 L512.11 160.5 L513.88 160 L515.66 159.5 L517.46 159 L519.28 158.5 L521.12 158 L522.97 157.5 L524.85 157 L526.75 156.5 L528.67 156 L530.61 155.5 L532.57 155 L534.55 154.5 L536.56 154 L538.58 153.5 L540.63 153 L542.71 152.5 L544.81 152 L546.93 151.5 L549.08 151 L551.26 150.5 L553.46 150 L555.69 149.5 L557.95 149 L560.24 148.5 L562.56 148 L564.9 147.5 L567.28 147 L569.69 146.5 L572.13 146 L574.61 145.5 L577.12 145 L579.67 144.5 L582.26 144 L584.88 143.5 L587.54 143 L590.25 142.5 L592.99 142 L595.78 141.5 L598.62 141 L601.5 140.5 L604.43 140 L607.41 139.5 L610.44 139 L613.53 138.5 L616.68 138 L619.88 137.5 L623.15 137 L626.48 136.5 L629.87 136 L633.34 135.5 L636.89 135 L640.51 134.5 L644.21 134 L648 133.5 L651.88 133 L655.85 132.5 L659.92 132 L664.11 131.5 L668.4 131 L672.82 130.5 L677.37 130 L682.05 129.5 L686.88 129 L691.87 128.5 L697.03 128" fill="none" stroke="#e37800" stroke-width="1.85" stroke-linejoin="round"/>
<path d="M639.56 459 L637.7 458.5 L635.85 458 L634.03 457.5 L632.22 457 L630.43 456.5 L628.65 456 L626.9 455.5 L625.15 455 L623.43 454.5 L621.72 454 L620.02 453.5 L618.34 453 L616.67 452.5 L615.02 452 L613.38 451.5 L611.75 451 L610.14 450.5 L608.54 450 L606.95 449.5 L605.38 449 L603.82 448.5 L602.26 448 L600.73 447.5 L599.2 447 L597.68 446.5 L596.18 446 L594.68 445.5 L593.2 445 L591.72 444.5 L590.26 444 L588.81 443.5 L587.37 443 L585.93 442.5 L584.51 442 L583.09 441.5 L581.69 441 L580.29 440.5 L578.9 440 L577.53 439.5 L576.16 439 L574.79 438.5 L573.44 438 L572.1 437.5 L570.76 437 L569.43 436.5 L568.11 436 L566.8 435.5 L565.49 435 L564.19 434.5 L562.9 434 L561.62 433.5 L560.35 433 L559.08 432.5 L557.81 432 L556.56 431.5 L555.31 431 L554.07 430.5 L552.83 430 L551.61 429.5 L550.38 429 L549.17 428.5 L547.96 428 L546.76 427.5 L545.56 427 L544.37 426.5 L543.18 426 L542 425.5 L540.83 425 L539.66 424.5 L538.5 424 L537.35 423.5 L536.19 423 L535.05 422.5 L533.91 422 L532.77 421.5 L531.65 421 L530.52 420.5 L529.4 420 L528.29 419.5 L527.18 419 L526.08 418.5 L524.98 418 L523.88 417.5 L522.79 417 L521.71 416.5 L520.63 416 L519.55 415.5 L518.48 415 L517.42 414.5 L516.36 414 L515.3 413.5 L514.25 413 L513.2 412.5 L512.16 412 L511.12 411.5 L510.08 411 L509.05 410.5 L508.03 410 L507 409.5 L505.99 409 L504.97 408.5 L503.96 408 L502.96 407.5 L501.95 407 L500.96 406.5 L499.96 406 L498.97 405.5 L497.98 405 L497 404.5 L496.02 404 L495.05 403.5 L494.08 403 L493.11 402.5 L492.15 402 L491.18 401.5 L490.23 401 L489.28 400.5 L488.33 400 L487.38 399.5 L486.44 399 L485.5 398.5 L484.56 398 L483.63 397.5 L482.7 397 L481.78 396.5 L480.86 396 L479.94 395.5 L479.03 395 L478.12 394.5 L477.21 394 L476.3 393.5 L475.4 393 L474.5 392.5 L473.61 392 L472.72 391.5 L471.83 391 L470.95 390.5 L470.07 390 L469.19 389.5 L468.31 389 L467.44 388.5 L466.57 388 L465.71 387.5 L464.85 387 L463.99 386.5 L463.13 386 L462.28 385.5 L461.43 385 L460.58 384.5 L459.74 384 L458.9 383.5 L458.06 383 L457.23 382.5 L456.4 382 L455.57 381.5 L454.75 381 L453.93 380.5 L453.11 380 L452.29 379.5 L451.48 379 L450.67 378.5 L449.86 378 L449.06 377.5 L448.26 377 L447.46 376.5 L446.67 376 L445.88 375.5 L445.09 375 L444.3 374.5 L443.52 374 L442.74 373.5 L441.96 373 L441.19 372.5 L440.42 372 L439.65 371.5 L438.88 371 L438.12 370.5 L437.36 370 L436.6 369.5 L435.85 369 L435.1 368.5 L434.35 368 L433.61 367.5 L432.86 367 L432.12 366.5 L431.39 366 L430.65 365.5 L429.92 365 L429.2 364.5 L428.47 364 L427.75 363.5 L427.15 363 L426.69 362.5 L426.24 362 L425.79 361.5 L425.34 361 L424.9 360.5 L424.46 360 L424.02 359.5 L423.59 359 L423.16 358.5 L422.73 358 L422.3 357.5 L421.88 357 L421.46 356.5 L421.04 356 L420.63 355.5 L420.22 355 L419.81 354.5 L419.41 354 L419.01 353.5 L418.61 353 L418.21 352.5 L417.82 352 L417.43 351.5 L417.05 351 L416.66 350.5 L416.28 350 L415.91 349.5 L415.53 349 L415.16 348.5 L414.79 348 L414.43 347.5 L414.07 347 L413.71 346.5 L413.35 346 L413 345.5 L412.65 345 L412.3 344.5 L411.96 344 L411.62 343.5 L411.28 343 L410.94 342.5 L410.61 342 L410.28 341.5 L409.96 341 L409.63 340.5 L409.31 340 L409 339.5 L408.68 339 L408.37 338.5 L408.06 338 L407.76 337.5 L407.46 337 L407.16 336.5 L406.86 336 L406.57 335.5 L406.27 335 L405.99 334.5 L405.7 334 L405.42 333.5 L405.14 333 L404.87 332.5 L404.59 332 L404.32 331.5 L404.05 331 L403.79 330.5 L403.53 330 L403.27 329.5 L403.01 329 L402.76 328.5 L402.51 328 L402.26 327.5 L402.02 327 L401.78 326.5 L401.54 326 L401.31 325.5 L401.07 325 L400.84 324.5 L400.62 324 L400.39 323.5 L400.17 323 L399.95 322.5 L399.74 322 L399.53 321.5 L399.32 321 L399.11 320.5 L398.91 320 L398.71 319.5 L398.51 319 L398.31 318.5 L398.12 318 L397.93 317.5 L397.75 317 L397.56 316.5 L397.38 316 L397.21 315.5 L397.03 315 L396.86 314.5 L396.69 314 L396.53 313.5 L396.36 313 L396.2 312.5 L396.05 312 L395.89 311.5 L395.74 311 L395.59 310.5 L395.45 310 L395.3 309.5 L395.16 309 L395.03 308.5 L394.89 308 L394.76 307.5 L394.63 307 L394.51 306.5 L394.38 306 L394.26 305.5 L394.15 305 L394.03 304.5 L393.92 304 L393.82 303.5 L393.71 303 L393.61 302.5 L393.51 302 L393.41 301.5 L393.32 301 L393.23 300.5 L393.14 300 L393.06 299.5 L392.98 299 L392.9 298.5 L392.82 298 L392.75 297.5 L392.68 297 L392.61 296.5 L392.55 296 L392.49 295.5 L392.43 295 L392.37 294.5 L392.32 294 L392.27 293.5 L392.23 293 L392.18 292.5 L392.14 292 L392.11 291.5" fill="none" stroke="#228b00" stroke-width="1.85" stroke-linejoin="round"/>
<path d="M395.45 262 L395.6 261.5 L395.76 261 L395.93 260.5 L396.09 260 L396.26 259.5 L396.43 259 L396.61 258.5 L396.79 258 L396.97 257.5 L397.16 257 L397.35 256.5 L397.54 256 L397.74 255.5 L397.94 255 L398.15 254.5 L398.35 254 L398.56 253.5 L398.78 253 L399 252.5 L399.22 252 L399.44 251.5 L399.67 251 L399.9 250.5 L400.14 250 L400.38 249.5 L400.62 249 L400.87 248.5 L401.12 248 L401.37 247.5 L401.63 247 L401.9 246.5 L402.16 246 L402.43 245.5 L402.71 245 L402.99 244.5 L403.27 244 L403.55 243.5 L403.85 243 L404.14 242.5 L404.44 242 L404.74 241.5 L405.05 241 L405.36 240.5 L405.68 240 L406 239.5 L406.33 239 L406.66 238.5 L406.99 238 L407.33 237.5 L407.68 237 L408.02 236.5 L408.38 236 L408.73 235.5 L409.1 235 L409.46 234.5 L409.84 234 L410.21 233.5 L410.59 233 L410.98 232.5 L411.37 232 L411.77 231.5 L412.17 231 L412.58 230.5 L412.99 230 L413.4 229.5 L413.83 229 L414.25 228.5 L414.68 228 L415.12 227.5 L415.57 227 L416.01 226.5 L416.47 226 L416.93 225.5 L417.39 225 L417.86 224.5 L418.34 224 L418.82 223.5 L419.31 223 L419.8 222.5 L420.3 222 L420.81 221.5 L421.32 221 L421.84 220.5 L422.36 220 L422.89 219.5 L423.43 219 L423.97 218.5 L424.52 218 L425.08 217.5 L425.64 217 L426.21 216.5 L426.79 216 L427.37 215.5 L427.96 215 L428.56 214.5 L429.16 214 L429.77 213.5 L430.39 213 L431.02 212.5 L431.65 212 L432.29 211.5 L432.94 211 L433.6 210.5 L434.26 210 L434.93 209.5 L435.62 209 L436.3 208.5 L437 208 L437.71 207.5 L438.42 207 L439.14 206.5 L439.88 206 L440.62 205.5 L441.37 205 L442.12 204.5 L442.89 204 L443.67 203.5 L444.45 203 L445.25 202.5 L446.06 202 L446.87 201.5 L447.7 201 L448.53 200.5 L449.38 200 L450.23 199.5 L451.1 199 L451.97 198.5 L452.86 198 L453.76 197.5 L454.66 197 L455.58 196.5 L456.51 196 L457.45 195.5 L458.39 195 L459.35 194.5 L460.32 194 L461.31 193.5 L462.3 193 L463.3 192.5 L464.31 192 L465.34 191.5 L466.38 191 L467.43 190.5 L468.48 190 L469.56 189.5 L470.64 189 L471.73 188.5 L472.84 188 L473.96 187.5 L475.09 187 L476.23 186.5 L477.39 186 L478.55 185.5 L479.73 185 L480.92 184.5 L482.13 184 L483.35 183.5 L484.58 183 L485.82 182.5 L487.08 182 L488.35 181.5 L489.63 181 L490.93 180.5 L492.24 180 L493.56 179.5 L494.9 179 L496.26 178.5 L497.62 178 L499 177.5 L500.4 177 L501.81 176.5 L503.24 176 L504.68 175.5 L506.14 175 L507.61 174.5 L509.1 174 L510.6 173.5 L512.12 173 L513.65 172.5 L515.21 172 L516.78 171.5 L518.36 171 L519.97 170.5 L521.59 170 L523.23 169.5 L524.89 169 L526.56 168.5 L528.26 168 L529.97 167.5 L531.71 167 L533.46 166.5 L535.23 166 L537.03 165.5 L538.84 165 L540.68 164.5 L542.53 164 L544.41 163.5 L546.31 163 L548.24 162.5 L550.19 162 L552.16 161.5 L554.15 161 L556.18 160.5 L558.22 160 L560.3 159.5 L562.4 159 L564.52 158.5 L566.68 158 L568.86 157.5 L571.08 157 L573.32 156.5 L575.6 156 L577.9 155.5 L580.24 155 L582.62 154.5 L585.03 154 L587.47 153.5 L589.95 153 L592.47 152.5 L595.03 152 L597.63 151.5 L600.28 151 L602.96 150.5 L605.69 150 L608.47 149.5 L611.3 149 L614.17 148.5 L617.1 148 L620.08 147.5 L623.12 147 L626.22 146.5 L629.38 146 L632.6 145.5 L635.88 145 L639.24 144.5 L642.67 144 L646.18 143.5 L649.77 143 L653.44 142.5 L657.2 142 L661.05 141.5 L665 141 L669.06 140.5 L673.23 140 L677.52 139.5 L681.93 139 L686.47 138.5 L691.16 138 L696 137.5" fill="none" stroke="#228b00" stroke-width="1.85" stroke-linejoin="round"/>
<path d="M690.36 452.5 L687.9 452 L685.48 451.5 L683.09 451 L680.74 450.5 L678.42 450 L676.13 449.5 L673.87 449 L671.65 448.5 L669.45 448 L667.28 447.5 L665.14 447 L663.02 446.5 L660.93 446 L658.87 445.5 L656.83 445 L654.82 444.5 L652.82 444 L650.85 443.5 L648.9 443 L646.98 442.5 L645.07 442 L643.18 441.5 L641.32 441 L639.47 440.5 L637.64 440 L635.83 439.5 L634.04 439 L632.27 438.5 L630.51 438 L628.77 437.5 L627.04 437 L625.33 436.5 L623.64 436 L621.96 435.5 L620.3 435 L618.65 434.5 L617.01 434 L615.39 433.5 L613.79 433 L612.19 432.5 L610.61 432 L609.04 431.5 L607.49 431 L605.95 430.5 L604.41 430 L602.9 429.5 L601.39 429 L599.89 428.5 L598.41 428 L596.93 427.5 L595.47 427 L594.02 426.5 L592.58 426 L591.15 425.5 L589.72 425 L588.31 424.5 L586.91 424 L585.52 423.5 L584.14 423 L582.76 422.5 L581.4 422 L580.04 421.5 L578.7 421 L577.36 420.5 L576.03 420 L574.71 419.5 L573.39 419 L572.09 418.5 L570.79 418 L569.5 417.5 L568.22 417 L566.95 416.5 L565.68 416 L564.43 415.5 L563.17 415 L561.93 414.5 L560.69 414 L559.47 413.5 L558.24 413 L557.03 412.5 L555.82 412 L554.62 411.5 L553.42 411 L552.23 410.5 L551.05 410 L549.87 409.5 L548.7 409 L547.54 408.5 L546.38 408 L545.23 407.5 L544.08 407 L542.94 406.5 L541.81 406 L540.68 405.5 L539.56 405 L538.44 404.5 L537.33 404 L536.22 403.5 L535.12 403 L534.03 402.5 L532.94 402 L531.85 401.5 L530.77 401 L529.7 400.5 L528.63 400 L527.57 399.5 L526.51 399 L525.46 398.5 L524.41 398 L523.36 397.5 L522.32 397 L521.29 396.5 L520.26 396 L519.24 395.5 L518.22 395 L517.2 394.5 L516.19 394 L515.19 393.5 L514.18 393 L513.19 392.5 L512.2 392 L511.21 391.5 L510.23 391 L509.25 390.5 L508.27 390 L507.3 389.5 L506.34 389 L505.37 388.5 L504.42 388 L503.46 387.5 L502.52 387 L501.57 386.5 L500.63 386 L499.77 385.5 L499.12 385 L498.47 384.5 L497.82 384 L497.17 383.5 L496.53 383 L495.9 382.5 L495.26 382 L494.63 381.5 L494.01 381 L493.38 380.5 L492.76 380 L492.14 379.5 L491.53 379 L490.92 378.5 L490.31 378 L489.71 377.5 L489.11 377 L488.51 376.5 L487.92 376 L487.33 375.5 L486.75 375 L486.16 374.5 L485.58 374 L485.01 373.5 L484.43 373 L483.86 372.5 L483.3 372 L482.74 371.5 L482.18 371 L481.62 370.5 L481.07 370 L480.52 369.5 L479.97 369 L479.43 368.5 L478.89 368 L478.36 367.5 L477.83 367 L477.3 366.5 L476.77 366 L476.25 365.5 L475.73 365 L475.22 364.5 L474.7 364 L474.2 363.5 L473.69 363 L473.19 362.5 L472.69 362 L472.2 361.5 L471.71 361 L471.22 360.5 L470.74 360 L470.26 359.5 L469.78 359 L469.3 358.5 L468.83 358 L468.37 357.5 L467.9 357 L467.44 356.5 L466.99 356 L466.54 355.5 L466.09 355 L465.64 354.5 L465.2 354 L464.76 353.5 L464.32 353 L463.89 352.5 L463.46 352 L463.04 351.5 L462.62 351 L462.2 350.5 L461.78 350 L461.37 349.5 L460.96 349 L460.56 348.5 L460.16 348 L459.76 347.5 L459.37 347 L458.98 346.5 L458.59 346 L458.2 345.5 L457.82 345 L457.45 344.5 L457.07 344 L456.7 343.5 L456.33 343 L455.97 342.5 L455.61 342 L455.25 341.5 L454.9 341 L454.55 340.5 L454.2 340 L453.85 339.5 L453.51 339 L453.17 338.5 L452.84 338 L452.51 337.5 L452.18 337 L451.86 336.5 L451.53 336 L451.22 335.5 L450.9 335 L450.59 334.5 L450.28 334 L449.98 333.5 L449.67 333 L449.37 332.5 L449.08 332 L448.79 331.5 L448.5 331 L448.21 330.5 L447.93 330 L447.65 329.5 L447.37 329 L447.1 328.5 L446.83 328 L446.56 327.5 L446.3 327 L446.04 326.5 L445.78 326 L445.53 325.5 L445.28 325 L445.03 324.5 L444.78 324 L444.54 323.5 L444.3 323 L444.07 322.5 L443.84 322 L443.61 321.5 L443.38 321 L443.16 320.5 L442.94 320 L442.72 319.5 L442.51 319 L442.3 318.5 L442.09 318 L441.89 317.5 L441.69 317 L441.49 316.5 L441.3 316 L441.11 315.5 L440.92 315 L440.73 314.5 L440.55 314 L440.37 313.5 L440.2 313 L440.03 312.5 L439.86 312 L439.69 311.5 L439.53 311 L439.37 310.5 L439.21 310 L439.06 309.5 L438.91 309 L438.76 308.5 L438.62 308 L438.47 307.5 L438.34 307 L438.2 306.5 L438.07 306 L437.94 305.5 L437.82 305 L437.69 304.5 L437.58 304 L437.46 303.5 L437.35 303 L437.24 302.5 L437.13 302 L437.03 301.5 L436.93 301 L436.83 300.5 L436.74 300 L436.64 299.5 L436.56 299 L436.47 298.5 L436.39 298 L436.31 297.5 L436.24 297 L436.17 296.5 L436.1 296 L436.03 295.5 L435.97 295 L435.91 294.5 L435.85 294 L435.8 293.5 L435.75 293 L435.71 292.5 L435.66 292 L435.62 291.5" fill="none" stroke="#1aa31a" stroke-width="1.85" stroke-linejoin="round"/>
<path d="M439.22 262 L439.38 261.5 L439.55 261 L439.73 260.5 L439.91 260 L440.09 259.5 L440.28 259 L440.46 258.5 L440.66 258 L440.86 257.5 L441.06 257 L441.26 256.5 L441.47 256 L441.68 255.5 L441.9 255 L442.12 254.5 L442.34 254 L442.57 253.5 L442.8 253 L443.03 252.5 L443.27 252 L443.52 251.5 L443.76 251 L444.01 250.5 L444.27 250 L444.53 249.5 L444.79 249 L445.05 248.5 L445.33 248 L445.6 247.5 L445.88 247 L446.16 246.5 L446.45 246 L446.74 245.5 L447.04 245 L447.34 244.5 L447.65 244 L447.96 243.5 L448.27 243 L448.59 242.5 L448.91 242 L449.24 241.5 L449.58 241 L449.91 240.5 L450.26 240 L450.61 239.5 L450.96 239 L451.32 238.5 L451.68 238 L452.05 237.5 L452.42 237 L452.8 236.5 L453.18 236 L453.57 235.5 L453.96 235 L454.36 234.5 L454.76 234 L455.17 233.5 L455.59 233 L456.01 232.5 L456.43 232 L456.86 231.5 L457.3 231 L457.74 230.5 L458.19 230 L458.64 229.5 L459.1 229 L459.57 228.5 L460.04 228 L460.52 227.5 L461 227 L461.49 226.5 L461.99 226 L462.49 225.5 L463 225 L463.51 224.5 L464.03 224 L464.56 223.5 L465.09 223 L465.63 222.5 L466.18 222 L466.73 221.5 L467.29 221 L467.86 220.5 L468.44 220 L469.02 219.5 L469.61 219 L470.2 218.5 L470.81 218 L471.42 217.5 L472.04 217 L472.66 216.5 L473.3 216 L473.94 215.5 L474.59 215 L475.25 214.5 L475.91 214 L476.59 213.5 L477.27 213 L477.96 212.5 L478.66 212 L479.37 211.5 L480.09 211 L480.82 210.5 L481.55 210 L482.3 209.5 L483.05 209 L483.82 208.5 L484.59 208 L485.38 207.5 L486.17 207 L486.98 206.5 L487.79 206 L488.61 205.5 L489.45 205 L490.3 204.5 L491.15 204 L492.02 203.5 L492.9 203 L493.79 202.5 L494.7 202 L495.61 201.5 L496.54 201 L497.48 200.5 L498.43 200 L499.39 199.5 L500.36 199 L501.35 198.5 L502.35 198 L503.36 197.5 L504.39 197 L505.43 196.5 L506.48 196 L507.54 195.5 L508.62 195 L509.71 194.5 L510.81 194 L511.93 193.5 L513.06 193 L514.21 192.5 L515.37 192 L516.54 191.5 L517.73 191 L518.93 190.5 L520.15 190 L521.38 189.5 L522.63 189 L523.89 188.5 L525.17 188 L526.47 187.5 L527.78 187 L529.1 186.5 L530.45 186 L531.8 185.5 L533.18 185 L534.57 184.5 L535.98 184 L537.41 183.5 L538.86 183 L540.32 182.5 L541.8 182 L543.3 181.5 L544.82 181 L546.36 180.5 L547.92 180 L549.5 179.5 L551.09 179 L552.71 178.5 L554.35 178 L556.01 177.5 L557.69 177 L559.4 176.5 L561.12 176 L562.87 175.5 L564.65 175 L566.44 174.5 L568.26 174 L570.11 173.5 L571.98 173 L573.88 172.5 L575.8 172 L577.75 171.5 L579.73 171 L581.73 170.5 L583.77 170 L585.83 169.5 L587.93 169 L590.05 168.5 L592.21 168 L594.4 167.5 L596.63 167 L598.89 166.5 L601.19 166 L603.52 165.5 L605.89 165 L608.3 164.5 L610.75 164 L613.25 163.5 L615.78 163 L618.36 162.5 L620.99 162 L623.67 161.5 L626.39 161 L629.17 160.5 L632 160 L634.88 159.5 L637.83 159 L640.83 158.5 L643.9 158 L647.03 157.5 L650.23 157 L653.5 156.5 L656.85 156 L660.27 155.5 L663.78 155 L667.38 154.5 L671.06 154 L674.85 153.5 L678.73 153 L682.73 152.5 L686.83 152 L691.06 151.5 L695.43 151" fill="none" stroke="#1aa31a" stroke-width="1.85" stroke-linejoin="round"/>
<path d="M690.54 438.5 L688.11 438 L685.72 437.5 L683.37 437 L681.05 436.5 L678.76 436 L676.51 435.5 L674.28 435 L672.09 434.5 L669.92 434 L667.78 433.5 L665.67 433 L663.59 432.5 L661.53 432 L659.49 431.5 L657.48 431 L655.5 430.5 L653.53 430 L651.59 429.5 L649.67 429 L647.77 428.5 L645.9 428 L644.04 427.5 L642.2 427 L640.38 426.5 L638.58 426 L636.8 425.5 L635.03 425 L633.29 424.5 L631.56 424 L629.84 423.5 L628.14 423 L626.46 422.5 L624.79 422 L623.14 421.5 L621.51 421 L619.88 420.5 L618.28 420 L616.68 419.5 L615.1 419 L613.54 418.5 L611.98 418 L610.44 417.5 L608.91 417 L607.4 416.5 L605.89 416 L604.4 415.5 L602.92 415 L601.45 414.5 L599.99 414 L598.54 413.5 L597.11 413 L595.68 412.5 L594.27 412 L592.86 411.5 L591.47 411 L590.08 410.5 L588.71 410 L587.34 409.5 L585.98 409 L584.64 408.5 L583.3 408 L581.97 407.5 L580.65 407 L579.34 406.5 L578.04 406 L576.74 405.5 L575.46 405 L574.18 404.5 L572.95 404 L572.02 403.5 L571.09 403 L570.18 402.5 L569.26 402 L568.36 401.5 L567.46 401 L566.56 400.5 L565.67 400 L564.78 399.5 L563.9 399 L563.03 398.5 L562.16 398 L561.29 397.5 L560.43 397 L559.58 396.5 L558.73 396 L557.88 395.5 L557.04 395 L556.2 394.5 L555.37 394 L554.55 393.5 L553.73 393 L552.91 392.5 L552.1 392 L551.29 391.5 L550.49 391 L549.7 390.5 L548.9 390 L548.12 389.5 L547.33 389 L546.55 388.5 L545.78 388 L545.01 387.5 L544.25 387 L543.49 386.5 L542.73 386 L541.98 385.5 L541.23 385 L540.49 384.5 L539.75 384 L539.02 383.5 L538.29 383 L537.57 382.5 L536.85 382 L536.13 381.5 L535.42 381 L534.71 380.5 L534.01 380 L533.31 379.5 L532.62 379 L531.93 378.5 L531.24 378 L530.56 377.5 L529.89 377 L529.21 376.5 L528.55 376 L527.88 375.5 L527.22 375 L526.57 374.5 L525.92 374 L525.27 373.5 L524.63 373 L523.99 372.5 L523.35 372 L522.72 371.5 L522.1 371 L521.47 370.5 L520.86 370 L520.24 369.5 L519.63 369 L519.03 368.5 L518.43 368 L517.83 367.5 L517.24 367 L516.65 366.5 L516.06 366 L515.48 365.5 L514.9 365 L514.33 364.5 L513.76 364 L513.2 363.5 L512.64 363 L512.08 362.5 L511.53 362 L510.98 361.5 L510.44 361 L509.9 360.5 L509.36 360 L508.83 359.5 L508.3 359 L507.78 358.5 L507.26 358 L506.74 357.5 L506.23 357 L505.72 356.5 L505.22 356 L504.72 355.5 L504.22 355 L503.73 354.5 L503.24 354 L502.76 353.5 L502.28 353 L501.81 352.5 L501.33 352 L500.87 351.5 L500.4 351 L499.94 350.5 L499.49 350 L499.04 349.5 L498.59 349 L498.14 348.5 L497.7 348 L497.27 347.5 L496.84 347 L496.41 346.5 L495.98 346 L495.56 345.5 L495.14 345 L494.73 344.5 L494.32 344 L493.92 343.5 L493.51 343 L493.12 342.5 L492.72 342 L492.33 341.5 L491.94 341 L491.56 340.5 L491.18 340 L490.8 339.5 L490.43 339 L490.06 338.5 L489.7 338 L489.34 337.5 L488.98 337 L488.62 336.5 L488.27 336 L487.93 335.5 L487.58 335 L487.24 334.5 L486.91 334 L486.58 333.5 L486.25 333 L485.92 332.5 L485.6 332 L485.28 331.5 L484.97 331 L484.66 330.5 L484.35 330 L484.05 329.5 L483.75 329 L483.45 328.5 L483.16 328 L482.87 327.5 L482.58 327 L482.3 326.5 L482.02 326 L481.74 325.5 L481.47 325 L481.2 324.5 L480.94 324 L480.67 323.5 L480.42 323 L480.16 322.5 L479.91 322 L479.66 321.5 L479.42 321 L479.18 320.5 L478.94 320 L478.7 319.5 L478.47 319 L478.25 318.5 L478.02 318 L477.8 317.5 L477.59 317 L477.37 316.5 L477.16 316 L476.96 315.5 L476.75 315 L476.55 314.5 L476.36 314 L476.16 313.5 L475.97 313 L475.79 312.5 L475.6 312 L475.42 311.5 L475.25 311 L475.08 310.5 L474.91 310 L474.74 309.5 L474.58 309 L474.42 308.5 L474.26 308 L474.11 307.5 L473.96 307 L473.82 306.5 L473.68 306 L473.54 305.5 L473.4 305 L473.27 304.5 L473.14 304 L473.02 303.5 L472.89 303 L472.78 302.5 L472.66 302 L472.55 301.5 L472.44 301 L472.34 300.5 L472.24 300 L472.14 299.5 L472.04 299 L471.95 298.5 L471.86 298 L471.78 297.5 L471.7 297 L471.62 296.5 L471.55 296" fill="none" stroke="#00b300" stroke-width="1.85" stroke-linejoin="round"/>
<path d="M476.06 259 L476.26 258.5 L476.47 258 L476.68 257.5 L476.9 257 L477.12 256.5 L477.35 256 L477.58 255.5 L477.81 255 L478.05 254.5 L478.29 254 L478.54 253.5 L478.79 253 L479.04 252.5 L479.3 252 L479.56 251.5 L479.83 251 L480.1 250.5 L480.38 250 L480.66 249.5 L480.94 249 L481.23 248.5 L481.52 248 L481.82 247.5 L482.13 247 L482.43 246.5 L482.75 246 L483.06 245.5 L483.39 245 L483.71 244.5 L484.04 244 L484.38 243.5 L484.72 243 L485.07 242.5 L485.42 242 L485.78 241.5 L486.14 241 L486.51 240.5 L486.88 240 L487.26 239.5 L487.65 239 L488.04 238.5 L488.43 238 L488.83 237.5 L489.24 237 L489.65 236.5 L490.07 236 L490.49 235.5 L490.92 235 L491.36 234.5 L491.8 234 L492.24 233.5 L492.7 233 L493.16 232.5 L493.62 232 L494.09 231.5 L494.57 231 L495.06 230.5 L495.55 230 L496.04 229.5 L496.55 229 L497.06 228.5 L497.57 228 L498.1 227.5 L498.63 227 L499.17 226.5 L499.71 226 L500.26 225.5 L500.82 225 L501.39 224.5 L501.96 224 L502.54 223.5 L503.13 223 L503.72 222.5 L504.33 222 L504.94 221.5 L505.56 221 L506.18 220.5 L506.82 220 L507.46 219.5 L508.11 219 L508.77 218.5 L509.44 218 L510.12 217.5 L510.8 217 L511.5 216.5 L512.2 216 L512.91 215.5 L513.63 215 L514.37 214.5 L515.11 214 L515.86 213.5 L516.62 213 L517.39 212.5 L518.17 212 L518.96 211.5 L519.76 211 L520.58 210.5 L521.4 210 L522.23 209.5 L523.08 209 L523.94 208.5 L524.8 208 L525.68 207.5 L526.58 207 L527.48 206.5 L528.4 206 L529.33 205.5 L530.27 205 L531.22 204.5 L532.19 204 L533.18 203.5 L534.17 203 L535.18 202.5 L536.2 202 L537.24 201.5 L538.3 201 L539.36 200.5 L540.44 200 L541.54 199.5 L542.65 199 L543.78 198.5 L544.93 198 L546.09 197.5 L547.26 197 L548.45 196.5 L549.66 196 L550.89 195.5 L552.13 195 L553.39 194.5 L554.67 194 L555.96 193.5 L557.27 193 L558.6 192.5 L559.95 192 L561.32 191.5 L562.71 191 L564.12 190.5 L565.54 190 L566.99 189.5 L568.46 189 L569.94 188.5 L571.45 188 L572.98 187.5 L574.54 187 L576.11 186.5 L577.71 186 L579.33 185.5 L580.98 185 L582.64 184.5 L584.34 184 L586.06 183.5 L587.8 183 L589.57 182.5 L591.37 182 L593.2 181.5 L595.05 181 L596.93 180.5 L598.84 180 L600.78 179.5 L602.76 179 L604.76 178.5 L606.8 178 L608.87 177.5 L610.97 177 L613.11 176.5 L615.29 176 L617.5 175.5 L619.76 175 L622.05 174.5 L624.38 174 L626.76 173.5 L629.17 173 L631.64 172.5 L634.15 172 L636.71 171.5 L639.32 171 L641.98 170.5 L644.69 170 L647.46 169.5 L650.29 169 L653.18 168.5 L656.13 168 L659.15 167.5 L662.23 167 L665.39 166.5 L668.62 166 L671.93 165.5 L675.33 165 L678.81 164.5 L682.38 164 L686.05 163.5 L689.82 163 L693.7 162.5" fill="none" stroke="#00b300" stroke-width="1.85" stroke-linejoin="round"/>
<path d="M351 1.51 L352 1.88 L353 2.25 L354 2.62 L355 2.99 L356 3.35 L357 3.72 L358 4.09 L359 4.46 L360 4.82 L361 5.19 L362 5.55 L363 5.92 L364 6.28 L365 6.65 L366 7.01 L367 7.37 L368 7.74 L369 8.1 L370 8.46 L371 8.82 L372 9.18 L373 9.55 L373.9 9.87" fill="none" stroke="#000" stroke-width="2.0" stroke-dasharray="6.5 2.6"/>
<path d="M427.8 28.57 L428.8 28.91 L429.8 29.24 L430.8 29.57 L431.8 29.9 L432.8 30.23 L433.8 30.56 L434.8 30.89 L435.8 31.21 L436.8 31.54 L437.8 31.87 L438.8 32.19 L439.8 32.52 L440.8 32.84 L441.8 33.17 L442.8 33.49 L443.8 33.81 L444.8 34.14 L445.8 34.46 L446.8 34.78 L447.8 35.1 L448.8 35.42 L449.8 35.74 L450.8 36.06 L451.8 36.37 L452.8 36.69 L453.8 37.01 L454.8 37.32 L455.8 37.64 L456.8 37.95 L457.8 38.27 L458.8 38.58 L459.8 38.89 L460.8 39.2 L461.8 39.51 L462.8 39.82 L463.8 40.13 L464.8 40.44 L465.8 40.75 L466.8 41.06 L467.8 41.37 L468.8 41.67 L469.8 41.98 L470.8 42.28 L471.8 42.59 L472.8 42.89 L473.8 43.19 L474.8 43.49 L475.8 43.79 L476.8 44.09 L477.8 44.39 L478.8 44.69 L479.8 44.99 L480.8 45.29 L481.8 45.59 L482.8 45.88 L483.8 46.18 L484.8 46.47 L485.8 46.76 L486.8 47.06 L487.8 47.35 L488.8 47.64 L489.8 47.93 L490.8 48.22 L491.8 48.51 L492.8 48.8 L493.8 49.09 L494.8 49.37 L495.8 49.66 L496.8 49.94 L497.8 50.23 L498.8 50.51 L499.8 50.8 L500.8 51.08 L501.8 51.36 L502.8 51.64 L503.8 51.92 L504.8 52.2 L505.8 52.48 L506.8 52.75 L507.8 53.03 L508.8 53.31 L509.8 53.58 L510.8 53.86 L511.8 54.13 L512.8 54.4 L513.8 54.67 L514.8 54.94 L515.8 55.21 L516.8 55.48 L517.8 55.75 L518.8 56.02 L519.8 56.29 L520.8 56.55 L521.8 56.82 L522.8 57.08 L523.8 57.34 L524.8 57.61 L525.8 57.87 L526.8 58.13 L527.8 58.39 L528.8 58.65 L529.8 58.91 L530.8 59.16 L531.8 59.42 L532.8 59.68 L533.8 59.93 L534.8 60.19 L535.8 60.44 L536.8 60.69 L537.8 60.94 L538.8 61.19 L539.8 61.44 L540.8 61.69 L541.8 61.94 L542.8 62.19 L543.8 62.44 L544.8 62.68 L545.8 62.93 L546.8 63.17 L547.8 63.41 L548.8 63.65 L549.8 63.9 L550.8 64.14 L551.8 64.38 L552.8 64.61 L553.8 64.85 L554.8 65.09 L555.8 65.32 L556.8 65.56 L557.8 65.79 L558.8 66.03 L559.8 66.26 L560.8 66.49 L561.8 66.72 L562.8 66.95 L563.8 67.18 L564.8 67.41 L565.8 67.64 L566.8 67.86 L567.8 68.09 L568.8 68.31 L569.8 68.53 L570.8 68.76 L571.8 68.98 L572.8 69.2 L573.8 69.42 L574.8 69.64 L575.8 69.86 L576.8 70.07 L577.8 70.29 L578.8 70.51 L579.8 70.72 L580.8 70.94 L581.8 71.15 L582.8 71.36 L583.8 71.57 L584.8 71.78 L585.8 71.99 L586.8 72.2 L587.8 72.41 L588.8 72.61 L589.8 72.82 L590.8 73.02 L591.8 73.23 L592.8 73.43 L593.8 73.63 L594.8 73.83 L595.8 74.04 L596.8 74.23 L597.8 74.43 L598.8 74.63 L599.8 74.83 L600.8 75.02 L601.8 75.22 L602.8 75.41 L603.8 75.61 L604.8 75.8 L605.8 75.99 L606.8 76.18 L607.8 76.37 L608.8 76.56 L609.8 76.75 L610.8 76.93 L611.8 77.12 L612.8 77.31 L613.8 77.49 L614.8 77.67 L615.8 77.86 L616.8 78.04 L617.8 78.22 L618.8 78.4 L619.8 78.58 L620.8 78.76 L621.8 78.94 L622.8 79.11 L623.8 79.29 L624.8 79.46 L625.8 79.64 L626.8 79.81 L627.8 79.98 L628.8 80.15 L629.8 80.32 L630.8 80.49 L631.8 80.66 L632.8 80.83 L633.8 81 L634.8 81.16 L635.8 81.33 L636.8 81.49 L637.8 81.66 L638.8 81.82 L639.8 81.98 L640.8 82.14 L641.8 82.3 L642.8 82.46 L643.8 82.62 L644.8 82.78 L645.8 82.94 L646.8 83.09 L647.8 83.25 L648.8 83.4 L649.8 83.56 L650.8 83.71 L651.8 83.86 L652.8 84.01 L653.8 84.16 L654.8 84.31 L655.8 84.46 L656.8 84.61 L657.8 84.76 L658.8 84.9 L659.8 85.05 L660.8 85.19 L661.8 85.34 L662.8 85.48 L663.8 85.62 L664.8 85.76 L665.8 85.9 L666.8 86.04 L667.8 86.18 L668.8 86.32 L669.8 86.46 L670.8 86.6 L671.8 86.73 L672.8 86.87 L673.8 87 L674.8 87.14 L675.8 87.27 L676.8 87.4 L677.8 87.53 L678.8 87.66 L679.8 87.79 L680.8 87.92 L681.8 88.05 L682.8 88.18 L683.8 88.3 L684.8 88.43 L685.8 88.56 L686.8 88.68 L687.8 88.8 L688.3 88.87" fill="none" stroke="#000" stroke-width="2.0" stroke-dasharray="6.5 2.6"/>
<path d="M72.67 1.72 L73.67 2.14 L74.67 2.55 L75.67 2.97 L76.67 3.38 L77.67 3.8 L78.67 4.21 L79.67 4.63 L80.67 5.05 L81.67 5.46 L82.67 5.88 L83.67 6.29 L84.67 6.71 L85.67 7.12 L86.67 7.54 L87.67 7.95 L88.67 8.37 L89.67 8.78 L90.67 9.2 L91.67 9.61 L92.67 10.03 L93.67 10.44 L94.67 10.86 L95.67 11.27 L96.67 11.69 L97.67 12.1 L98.67 12.52 L99.67 12.93 L100.67 13.34 L101.67 13.76 L102.67 14.17 L103.67 14.59 L104.67 15 L105.67 15.41 L106.67 15.83 L107.67 16.24 L108.67 16.66 L109.67 17.07 L110.67 17.48 L111.67 17.9 L112.67 18.31 L113.67 18.73 L114.67 19.14 L115.67 19.55 L116.67 19.97 L117.67 20.38 L118.67 20.79 L119.67 21.21 L120.67 21.62 L121.67 22.03 L122.67 22.44 L123.67 22.86 L124.67 23.27 L125.67 23.68 L126.67 24.1 L127.67 24.51 L128.67 24.92 L129.67 25.33 L130.67 25.75 L131.67 26.16 L132.67 26.57 L133.67 26.98 L134.67 27.39 L135.67 27.81 L136.67 28.22 L137.67 28.63 L138.67 29.04 L139.67 29.45 L140.67 29.87 L141.67 30.28 L142.67 30.69 L143.67 31.1 L144.67 31.51 L145.67 31.92 L146.67 32.33 L147.67 32.74 L148.67 33.15 L149.67 33.57 L150.67 33.98 L151.67 34.39 L152.67 34.8 L153.67 35.21 L154.67 35.62 L155.67 36.03 L156.67 36.44 L157.67 36.85 L158.67 37.26 L159.67 37.67 L160.67 38.08 L161.67 38.49 L162.67 38.9 L163.67 39.31 L164.67 39.72 L165.67 40.13 L166.67 40.54 L167.67 40.95 L168.67 41.35 L169.67 41.76 L170.67 42.17 L171.67 42.58 L172.67 42.99 L173.67 43.4 L174.67 43.81 L175.67 44.22 L176.67 44.62 L177.67 45.03 L178.67 45.44 L179.67 45.85 L180.67 46.26 L181.67 46.66 L182.67 47.07 L183.67 47.48 L184.67 47.89 L185.67 48.29 L186.67 48.7 L187.67 49.11 L188.67 49.51 L189.67 49.92 L190.67 50.33 L191.67 50.73 L192.67 51.14 L193.67 51.55 L194.67 51.95 L195.67 52.36 L196.67 52.76 L197.67 53.17 L198.67 53.58 L199.67 53.98 L200.67 54.39 L201.67 54.79 L202.67 55.2 L203.67 55.6 L204.67 56.01 L205.67 56.41 L206.67 56.82 L207.67 57.22 L208.67 57.63 L209.67 58.03 L210.67 58.43 L211.67 58.84 L212.67 59.24 L213.67 59.65 L214.67 60.05 L215.67 60.45 L216.67 60.86 L217.67 61.26 L218.67 61.66 L219.67 62.06 L220.67 62.47 L221.67 62.87 L222.67 63.27 L223.67 63.67 L224.67 64.08 L225.67 64.48 L226.67 64.88 L227.67 65.28 L228.67 65.68 L229.67 66.08 L230.67 66.48 L231.67 66.89 L232.67 67.29 L233.67 67.69 L234.67 68.09 L235.67 68.49 L236.67 68.89 L237.67 69.29 L238.67 69.69 L239.67 70.09 L240.67 70.49 L241.67 70.88 L242.67 71.28 L243.67 71.68 L244.67 72.08 L245.67 72.48 L246.67 72.88 L247.67 73.28 L248.67 73.67 L249.67 74.07 L250.67 74.47 L251.67 74.87 L252.67 75.26 L253.67 75.66 L254.67 76.06 L255.67 76.45 L256.67 76.85 L257.67 77.25 L258.67 77.64 L259.67 78.04 L260.67 78.43 L261.67 78.83 L262.67 79.22 L263.67 79.62 L264.67 80.01 L265.67 80.41 L266.67 80.8 L267.67 81.2 L268.67 81.59 L269.67 81.98 L270.67 82.38 L271.67 82.77 L272.67 83.16 L273.67 83.56 L274.67 83.95 L275.67 84.34 L276.67 84.73 L277.67 85.13 L278.67 85.52 L279.67 85.91 L280.67 86.3 L281.67 86.69 L282.67 87.08 L283.67 87.47 L284.67 87.86 L285.67 88.25 L286.67 88.64 L287.67 89.03 L288.67 89.42 L289.67 89.81 L290.67 90.2 L291.67 90.59 L292.67 90.98 L293.67 91.36 L294.67 91.75 L295.67 92.14 L296.67 92.53 L297.67 92.91 L298.67 93.3 L299.67 93.69 L300.67 94.07 L301.67 94.46 L302.67 94.84 L303.67 95.23 L304.67 95.61 L305.67 96 L306.67 96.38 L307.67 96.77 L308.67 97.15 L309.67 97.54 L310.67 97.92 L311.67 98.3 L312.67 98.68 L313.67 99.07 L314.67 99.45 L315.67 99.83 L316.67 100.21 L317.67 100.59 L318.67 100.97 L319.67 101.35 L320.67 101.74 L321.67 102.12 L322.67 102.49 L323.67 102.87 L324.67 103.25 L325.67 103.63 L326.67 104.01 L327.67 104.39 L328.67 104.77 L329.67 105.14 L330.67 105.52 L331.67 105.9 L332.67 106.27 L333.67 106.65 L334.67 107.03 L335.67 107.4 L336.67 107.78 L337.67 108.15 L338.67 108.52 L339.67 108.9 L340.67 109.27 L341.67 109.65 L342.67 110.02 L343.67 110.39 L344.67 110.76 L345.67 111.14 L346.67 111.51 L347.67 111.88 L348.67 112.25 L349.67 112.62 L350.67 112.99 L351.67 113.36 L352.67 113.73 L353.67 114.1 L354.67 114.46 L355.67 114.83 L356.67 115.2 L357.67 115.57 L358.67 115.93 L359.67 116.3 L360.67 116.67 L361.67 117.03 L362.67 117.4 L363.67 117.76 L364.67 118.13 L365.67 118.49 L366.67 118.85 L367.67 119.22 L368.67 119.58 L369.67 119.94 L370.67 120.3 L371.67 120.67 L372.67 121.03 L373.67 121.39 L374.67 121.75 L375.67 122.11 L376.67 122.47 L377.67 122.82 L378.67 123.18 L379.6 123.52" fill="none" stroke="#000" stroke-width="2.0" stroke-dasharray="6.5 2.6"/>
<path d="M422.6 138.44 L423.6 138.77 L424.6 139.11 L425.6 139.44 L426.6 139.77 L427.6 140.11 L428.6 140.44 L429.6 140.77 L430.6 141.1 L431.6 141.43 L432.6 141.76 L433.6 142.09 L434.6 142.42 L435.6 142.75 L436.6 143.08 L437.6 143.4 L438.6 143.73 L439.6 144.05 L440.6 144.38 L441.6 144.7 L442.6 145.03 L443.6 145.35 L444.6 145.67 L445.6 145.99 L446.6 146.31 L447.6 146.64 L448.6 146.95 L449.6 147.27 L450.6 147.59 L451.6 147.91 L452.6 148.23 L453.6 148.54 L454.6 148.86 L455.6 149.18 L456.6 149.49 L457.6 149.8 L458.6 150.12 L459.6 150.43 L460.6 150.74 L461.6 151.05 L462.6 151.36 L463.6 151.67 L464.6 151.98 L465.6 152.29 L466.6 152.6 L467.6 152.9 L468.6 153.21 L469.6 153.52 L470.6 153.82 L471.6 154.12 L472.6 154.43 L473.6 154.73 L474.6 155.03 L475.6 155.33 L476.6 155.63 L477.6 155.93 L478.6 156.23 L479.6 156.53 L480.6 156.83 L481.6 157.13 L482.6 157.42 L483.6 157.72 L484.6 158.01 L485.6 158.31 L486.6 158.6 L487.6 158.89 L488.6 159.18 L489.6 159.47 L490.6 159.76 L491.6 160.05 L492.6 160.34 L493.6 160.63 L494.6 160.92 L495.6 161.2 L496.6 161.49 L497.6 161.77 L498.6 162.06 L499.6 162.34 L500.6 162.62 L501.6 162.9 L502.6 163.18 L503.6 163.46 L504.6 163.74 L505.6 164.02 L506.6 164.3 L507.6 164.58 L508.6 164.85 L509.6 165.13 L510.6 165.4 L511.6 165.67 L512.6 165.95 L513.6 166.22 L514.6 166.49 L515.6 166.76 L516.6 167.03 L517.6 167.3 L518.6 167.57 L519.6 167.83 L520.6 168.1 L521.6 168.36 L522.6 168.63 L523.6 168.89 L524.6 169.15 L525.6 169.42 L526.6 169.68 L527.6 169.94 L528.6 170.2 L529.6 170.46 L530.6 170.71 L531.6 170.97 L532.6 171.23 L533.6 171.48 L534.6 171.74 L535.6 171.99 L536.6 172.24 L537.6 172.49 L538.6 172.74 L539.6 172.99 L540.6 173.24 L541.6 173.49 L542.6 173.74 L543.6 173.99 L544.6 174.23 L545.6 174.48 L546.6 174.72 L547.6 174.96 L548.6 175.21 L549.6 175.45 L550.6 175.69 L551.6 175.93 L552.6 176.17 L553.6 176.4 L554.6 176.64 L555.6 176.88 L556.6 177.11 L557.6 177.35 L558.6 177.58 L559.6 177.81 L560.6 178.04 L561.6 178.28 L562.6 178.51 L563.6 178.73 L564.6 178.96 L565.6 179.19 L566.6 179.42 L567.6 179.64 L568.6 179.87 L569.6 180.09 L570.6 180.31 L571.6 180.54 L572.6 180.76 L573.6 180.98 L574.6 181.2 L575.6 181.41 L576.6 181.63 L577.6 181.85 L578.6 182.06 L579.6 182.28 L580.6 182.49 L581.6 182.71 L582.6 182.92 L583.6 183.13 L584.6 183.34 L585.6 183.55 L586.6 183.76 L587.6 183.97 L588.6 184.17 L589.6 184.38 L590.6 184.58 L591.6 184.79 L592.6 184.99 L593.6 185.19 L594.6 185.39 L595.6 185.59 L596.6 185.79 L597.6 185.99 L598.6 186.19 L599.6 186.39 L600.6 186.58 L601.6 186.78 L602.6 186.97 L603.6 187.17 L604.6 187.36 L605.6 187.55 L606.6 187.74 L607.6 187.93 L608.6 188.12 L609.6 188.31 L610.6 188.5 L611.6 188.68 L612.6 188.87 L613.6 189.05 L614.6 189.24 L615.6 189.42 L616.6 189.6 L617.6 189.78 L618.6 189.96 L619.6 190.14 L620.6 190.32 L621.6 190.5 L622.6 190.68 L623.6 190.85 L624.6 191.03 L625.6 191.2 L626.6 191.37 L627.6 191.55 L628.6 191.72 L629.6 191.89 L630.6 192.06 L631.6 192.23 L632.6 192.4 L633.6 192.56 L634.6 192.73 L635.6 192.9 L636.6 193.06 L637.6 193.22 L638.6 193.39 L639.6 193.55 L640.6 193.71 L641.6 193.87 L642.6 194.03 L643.6 194.19 L644.6 194.35 L645.6 194.51 L646.6 194.66 L647.6 194.82 L648.6 194.97 L649.6 195.13 L650.6 195.28 L651.6 195.43 L652.6 195.58 L653.6 195.73 L654.6 195.88 L655.6 196.03 L656.6 196.18 L657.6 196.33 L658.6 196.47 L659.6 196.62 L660.6 196.76 L661.6 196.91 L662.6 197.05 L663.6 197.19 L664.6 197.34 L665.6 197.48 L666.6 197.62 L667.6 197.76 L668.6 197.89 L669.6 198.03 L670.6 198.17 L671.6 198.31 L672.6 198.44 L673.6 198.58 L674.6 198.71 L675.6 198.84 L676.6 198.97 L677.6 199.11 L678.6 199.24 L679.6 199.37 L680.6 199.5 L681.6 199.62 L682.6 199.75 L683.6 199.88 L684.6 200.01 L685.6 200.13 L686.6 200.26 L687.6 200.38 L688.3 200.47" fill="none" stroke="#000" stroke-width="2.0" stroke-dasharray="6.5 2.6"/>
<path d="M72.67 113.32 L73.67 113.74 L74.67 114.15 L75.67 114.57 L76.67 114.98 L77.67 115.4 L78.67 115.81 L79.67 116.23 L80.67 116.65 L81.67 117.06 L82.67 117.48 L83.67 117.89 L84.67 118.31 L85.67 118.72 L86.67 119.14 L87.67 119.55 L88.67 119.97 L89.67 120.38 L90.67 120.8 L91.67 121.21 L92.67 121.63 L93.67 122.04 L94.67 122.46 L95.67 122.87 L96.67 123.29 L97.67 123.7 L98.67 124.12 L99.67 124.53 L100.67 124.94 L101.67 125.36 L102.67 125.77 L103.67 126.19 L104.67 126.6 L105.67 127.01 L106.67 127.43 L107.67 127.84 L108.67 128.26 L109.67 128.67 L110.67 129.08 L111.67 129.5 L112.67 129.91 L113.67 130.33 L114.67 130.74 L115.67 131.15 L116.67 131.57 L117.67 131.98 L118.67 132.39 L119.67 132.81 L120.67 133.22 L121.67 133.63 L122.67 134.04 L123.67 134.46 L124.67 134.87 L125.67 135.28 L126.67 135.7 L127.67 136.11 L128.67 136.52 L129.67 136.93 L130.67 137.35 L131.67 137.76 L132.67 138.17 L133.67 138.58 L134.67 138.99 L135.67 139.41 L136.67 139.82 L137.67 140.23 L138.67 140.64 L139.67 141.05 L140.67 141.47 L141.67 141.88 L142.67 142.29 L143.67 142.7 L144.67 143.11 L145.67 143.52 L146.67 143.93 L147.67 144.34 L148.67 144.75 L149.67 145.17 L150.67 145.58 L151.67 145.99 L152.67 146.4 L153.67 146.81 L154.67 147.22 L155.67 147.63 L156.67 148.04 L157.67 148.45 L158.67 148.86 L159.67 149.27 L160.67 149.68 L161.67 150.09 L162.67 150.5 L163.67 150.91 L164.67 151.32 L165.67 151.73 L166.67 152.14 L167.67 152.55 L168.67 152.95 L169.67 153.36 L170.67 153.77 L171.67 154.18 L172.67 154.59 L173.67 155 L174.67 155.41 L175.67 155.82 L176.67 156.22 L177.67 156.63 L178.67 157.04 L179.67 157.45 L180.67 157.86 L181.67 158.26 L182.67 158.67 L183.67 159.08 L184.67 159.49 L185.67 159.89 L186.67 160.3 L187.67 160.71 L188.67 161.11 L189.67 161.52 L190.67 161.93 L191.67 162.33 L192.67 162.74 L193.67 163.15 L194.67 163.55 L195.67 163.96 L196.67 164.36 L197.67 164.77 L198.67 165.18 L199.67 165.58 L200.67 165.99 L201.67 166.39 L202.67 166.8 L203.67 167.2 L204.67 167.61 L205.67 168.01 L206.67 168.42 L207.67 168.82 L208.67 169.23 L209.67 169.63 L210.67 170.03 L211.67 170.44 L212.67 170.84 L213.67 171.25 L214.67 171.65 L215.67 172.05 L216.67 172.46 L217.67 172.86 L218.67 173.26 L219.67 173.66 L220.67 174.07 L221.67 174.47 L222.67 174.87 L223.67 175.27 L224.67 175.68 L225.67 176.08 L226.67 176.48 L227.67 176.88 L228.67 177.28 L229.67 177.68 L230.67 178.08 L231.67 178.49 L232.67 178.89 L233.67 179.29 L234.67 179.69 L235.67 180.09 L236.67 180.49 L237.67 180.89 L238.67 181.29 L239.67 181.69 L240.67 182.09 L241.67 182.48 L242.67 182.88 L243.67 183.28 L244.67 183.68 L245.67 184.08 L246.67 184.48 L247.67 184.88 L248.67 185.27 L249.67 185.67 L250.67 186.07 L251.67 186.47 L252.67 186.86 L253.67 187.26 L254.67 187.66 L255.67 188.05 L256.67 188.45 L257.67 188.85 L258.67 189.24 L259.67 189.64 L260.67 190.03 L261.67 190.43 L262.67 190.82 L263.67 191.22 L264.67 191.61 L265.67 192.01 L266.67 192.4 L267.67 192.8 L268.67 193.19 L269.67 193.58 L270.67 193.98 L271.67 194.37 L272.67 194.76 L273.67 195.16 L274.67 195.55 L275.67 195.94 L276.67 196.33 L277.67 196.73 L278.67 197.12 L279.67 197.51 L280.67 197.9 L281.67 198.29 L282.67 198.68 L283.67 199.07 L284.67 199.46 L285.67 199.85 L286.67 200.24 L287.67 200.63 L288.67 201.02 L289.67 201.41 L290.67 201.8 L291.67 202.19 L292.67 202.58 L293.67 202.96 L294.67 203.35 L295.67 203.74 L296.67 204.13 L297.67 204.51 L298.67 204.9 L299.67 205.29 L300.67 205.67 L301.67 206.06 L302.67 206.44 L303.67 206.83 L304.67 207.21 L305.67 207.6 L306.67 207.98 L307.67 208.37 L308.67 208.75 L309.67 209.14 L310.67 209.52 L311.67 209.9 L312.67 210.28 L313.67 210.67 L314.67 211.05 L315.67 211.43 L316.67 211.81 L317.67 212.19 L318.67 212.57 L319.67 212.95 L320.67 213.34 L321.67 213.72 L322.67 214.09 L323.67 214.47 L324.67 214.85 L325.67 215.23 L326.67 215.61 L327.67 215.99 L328.67 216.37 L329.67 216.74 L330.67 217.12 L331.67 217.5 L332.67 217.87 L333.67 218.25 L334.67 218.63 L335.67 219 L336.67 219.38 L337.67 219.75 L338.67 220.12 L339.67 220.5 L340.67 220.87 L341.67 221.25 L342.67 221.62 L343.67 221.99 L344.67 222.36 L345.67 222.74 L346.67 223.11 L347.67 223.48 L348.67 223.85 L349.67 224.22 L350.67 224.59 L351.67 224.96 L352.67 225.33 L353.67 225.7 L354.67 226.06 L355.67 226.43 L356.67 226.8 L357.67 227.17 L358.67 227.53 L359.67 227.9 L360.67 228.27 L361.67 228.63 L362.67 229 L363.67 229.36 L364.67 229.73 L365.67 230.09 L366.67 230.45 L367.67 230.82 L368.67 231.18 L369.67 231.54 L370.67 231.9 L371.67 232.27 L372.67 232.63 L373.67 232.99 L374.67 233.35 L375.67 233.71 L376.67 234.07 L377.67 234.42 L378.67 234.78 L379.67 235.14 L380.67 235.5 L381.67 235.85 L382.3 236.08" fill="none" stroke="#000" stroke-width="2.0" stroke-dasharray="6.5 2.6"/>
<path d="M418.8 248.76 L419.8 249.09 L420.8 249.43 L421.8 249.77 L422.8 250.1 L423.8 250.44 L424.8 250.77 L425.8 251.11 L426.8 251.44 L427.8 251.77 L428.8 252.11 L429.8 252.44 L430.8 252.77 L431.8 253.1 L432.8 253.43 L433.8 253.76 L434.8 254.09 L435.8 254.41 L436.8 254.74 L437.8 255.07 L438.8 255.39 L439.8 255.72 L440.8 256.04 L441.8 256.37 L442.8 256.69 L443.8 257.01 L444.8 257.34 L445.8 257.66 L446.8 257.98 L447.8 258.3 L448.8 258.62 L449.8 258.94 L450.8 259.26 L451.8 259.57 L452.8 259.89 L453.8 260.21 L454.8 260.52 L455.8 260.84 L456.8 261.15 L457.8 261.47 L458.8 261.78 L459.8 262.09 L460.8 262.4 L461.8 262.71 L462.8 263.02 L463.8 263.33 L464.8 263.64 L465.8 263.95 L466.8 264.26 L467.8 264.57 L468.8 264.87 L469.8 265.18 L470.8 265.48 L471.8 265.79 L472.8 266.09 L473.8 266.39 L474.8 266.69 L475.8 266.99 L476.8 267.29 L477.8 267.59 L478.8 267.89 L479.8 268.19 L480.8 268.49 L481.8 268.79 L482.8 269.08 L483.8 269.38 L484.8 269.67 L485.8 269.96 L486.8 270.26 L487.8 270.55 L488.8 270.84 L489.8 271.13 L490.8 271.42 L491.8 271.71 L492.8 272 L493.8 272.29 L494.8 272.57 L495.8 272.86 L496.8 273.14 L497.8 273.43 L498.8 273.71 L499.8 274 L500.8 274.28 L501.8 274.56 L502.8 274.84 L503.8 275.12 L504.8 275.4 L505.8 275.68 L506.8 275.95 L507.8 276.23 L508.8 276.51 L509.8 276.78 L510.8 277.06 L511.8 277.33 L512.8 277.6 L513.8 277.87 L514.8 278.14 L515.8 278.41 L516.8 278.68 L517.8 278.95 L518.8 279.22 L519.8 279.49 L520.8 279.75 L521.8 280.02 L522.8 280.28 L523.8 280.54 L524.8 280.81 L525.8 281.07 L526.8 281.33 L527.8 281.59 L528.8 281.85 L529.8 282.11 L530.8 282.36 L531.8 282.62 L532.8 282.88 L533.8 283.13 L534.8 283.39 L535.8 283.64 L536.8 283.89 L537.8 284.14 L538.8 284.39 L539.8 284.64 L540.8 284.89 L541.8 285.14 L542.8 285.39 L543.8 285.64 L544.8 285.88 L545.8 286.13 L546.8 286.37 L547.8 286.61 L548.8 286.85 L549.8 287.1 L550.8 287.34 L551.8 287.58 L552.8 287.81 L553.8 288.05 L554.8 288.29 L555.8 288.52 L556.8 288.76 L557.8 288.99 L558.8 289.23 L559.8 289.46 L560.8 289.69 L561.8 289.92 L562.8 290.15 L563.8 290.38 L564.8 290.61 L565.8 290.84 L566.8 291.06 L567.8 291.29 L568.8 291.51 L569.8 291.73 L570.8 291.96 L571.8 292.18 L572.8 292.4 L573.8 292.62 L574.8 292.84 L575.8 293.06 L576.8 293.27 L577.8 293.49 L578.8 293.71 L579.8 293.92 L580.8 294.14 L581.8 294.35 L582.8 294.56 L583.8 294.77 L584.8 294.98 L585.8 295.19 L586.8 295.4 L587.8 295.61 L588.8 295.81 L589.8 296.02 L590.8 296.22 L591.8 296.43 L592.8 296.63 L593.8 296.83 L594.8 297.03 L595.8 297.24 L596.8 297.43 L597.8 297.63 L598.8 297.83 L599.8 298.03 L600.8 298.22 L601.8 298.42 L602.8 298.61 L603.8 298.81 L604.8 299 L605.8 299.19 L606.8 299.38 L607.8 299.57 L608.8 299.76 L609.8 299.95 L610.8 300.13 L611.8 300.32 L612.8 300.51 L613.8 300.69 L614.8 300.87 L615.8 301.06 L616.8 301.24 L617.8 301.42 L618.8 301.6 L619.8 301.78 L620.8 301.96 L621.8 302.14 L622.8 302.31 L623.8 302.49 L624.8 302.66 L625.8 302.84 L626.8 303.01 L627.8 303.18 L628.8 303.35 L629.8 303.52 L630.8 303.69 L631.8 303.86 L632.8 304.03 L633.8 304.2 L634.8 304.36 L635.8 304.53 L636.8 304.69 L637.8 304.86 L638.8 305.02 L639.8 305.18 L640.8 305.34 L641.8 305.5 L642.8 305.66 L643.8 305.82 L644.8 305.98 L645.8 306.14 L646.8 306.29 L647.8 306.45 L648.8 306.6 L649.8 306.76 L650.8 306.91 L651.8 307.06 L652.8 307.21 L653.8 307.36 L654.8 307.51 L655.8 307.66 L656.8 307.81 L657.8 307.96 L658.8 308.1 L659.8 308.25 L660.8 308.39 L661.8 308.54 L662.8 308.68 L663.8 308.82 L664.8 308.96 L665.8 309.1 L666.8 309.24 L667.8 309.38 L668.8 309.52 L669.8 309.66 L670.8 309.8 L671.8 309.93 L672.8 310.07 L673.8 310.2 L674.8 310.34 L675.8 310.47 L676.8 310.6 L677.8 310.73 L678.8 310.86 L679.8 310.99 L680.8 311.12 L681.8 311.25 L682.8 311.38 L683.8 311.5 L684.8 311.63 L685.8 311.76 L686.8 311.88 L687.8 312 L688.3 312.07" fill="none" stroke="#000" stroke-width="2.0" stroke-dasharray="6.5 2.6"/>
<path d="M72.67 224.92 L73.67 225.34 L74.67 225.75 L75.67 226.17 L76.67 226.58 L77.67 227 L78.67 227.41 L79.67 227.83 L80.67 228.25 L81.67 228.66 L82.67 229.08 L83.67 229.49 L84.67 229.91 L85.67 230.32 L86.67 230.74 L87.67 231.15 L88.67 231.57 L89.67 231.98 L90.67 232.4 L91.67 232.81 L92.67 233.23 L93.67 233.64 L94.67 234.06 L95.67 234.47 L96.67 234.89 L97.67 235.3 L98.67 235.72 L99.67 236.13 L100.67 236.54 L101.67 236.96 L102.67 237.37 L103.67 237.79 L104.67 238.2 L105.67 238.61 L106.67 239.03 L107.67 239.44 L108.67 239.86 L109.67 240.27 L110.67 240.68 L111.67 241.1 L112.67 241.51 L113.67 241.93 L114.67 242.34 L115.67 242.75 L116.67 243.17 L117.67 243.58 L118.67 243.99 L119.67 244.41 L120.67 244.82 L121.67 245.23 L122.67 245.64 L123.67 246.06 L124.67 246.47 L125.67 246.88 L126.67 247.3 L127.67 247.71 L128.67 248.12 L129.67 248.53 L130.67 248.95 L131.67 249.36 L132.67 249.77 L133.67 250.18 L134.67 250.59 L135.67 251.01 L136.67 251.42 L137.67 251.83 L138.67 252.24 L139.67 252.65 L140.67 253.07 L141.67 253.48 L142.67 253.89 L143.67 254.3 L144.67 254.71 L145.67 255.12 L146.67 255.53 L147.67 255.94 L148.67 256.35 L149.67 256.77 L150.67 257.18 L151.67 257.59 L152.67 258 L153.67 258.41 L154.67 258.82 L155.67 259.23 L156.67 259.64 L157.67 260.05 L158.67 260.46 L159.67 260.87 L160.67 261.28 L161.67 261.69 L162.67 262.1 L163.67 262.51 L164.67 262.92 L165.67 263.33 L166.67 263.74 L167.67 264.15 L168.67 264.55 L169.67 264.96 L170.67 265.37 L171.67 265.78 L172.67 266.19 L173.67 266.6 L174.67 267.01 L175.67 267.42 L176.67 267.82 L177.67 268.23 L178.67 268.64 L179.67 269.05 L180.67 269.46 L181.67 269.86 L182.67 270.27 L183.67 270.68 L184.67 271.09 L185.67 271.49 L186.67 271.9 L187.67 272.31 L188.67 272.71 L189.67 273.12 L190.67 273.53 L191.67 273.93 L192.67 274.34 L193.67 274.75 L194.67 275.15 L195.67 275.56 L196.67 275.96 L197.67 276.37 L198.67 276.78 L199.67 277.18 L200.67 277.59 L201.67 277.99 L202.67 278.4 L203.67 278.8 L204.67 279.21 L205.67 279.61 L206.67 280.02 L207.67 280.42 L208.67 280.83 L209.67 281.23 L210.67 281.63 L211.67 282.04 L212.67 282.44 L213.67 282.85 L214.67 283.25 L215.67 283.65 L216.67 284.06 L217.67 284.46 L218.67 284.86 L219.67 285.26 L220.67 285.67 L221.67 286.07 L222.67 286.47 L223.67 286.87 L224.67 287.28 L225.67 287.68 L226.67 288.08 L227.67 288.48 L228.67 288.88 L229.67 289.28 L230.67 289.68 L231.67 290.09 L232.67 290.49 L233.67 290.89 L234.67 291.29 L235.67 291.69 L236.67 292.09 L237.67 292.49 L238.67 292.89 L239.67 293.29 L240.67 293.69 L241.67 294.08 L242.67 294.48 L243.67 294.88 L244.67 295.28 L245.67 295.68 L246.67 296.08 L247.67 296.48 L248.67 296.87 L249.67 297.27 L250.67 297.67 L251.67 298.07 L252.67 298.46 L253.67 298.86 L254.67 299.26 L255.67 299.65 L256.67 300.05 L257.67 300.45 L258.67 300.84 L259.67 301.24 L260.67 301.63 L261.67 302.03 L262.67 302.42 L263.67 302.82 L264.67 303.21 L265.67 303.61 L266.67 304 L267.67 304.4 L268.67 304.79 L269.67 305.18 L270.67 305.58 L271.67 305.97 L272.67 306.36 L273.67 306.76 L274.67 307.15 L275.67 307.54 L276.67 307.93 L277.67 308.33 L278.67 308.72 L279.67 309.11 L280.67 309.5 L281.67 309.89 L282.67 310.28 L283.67 310.67 L284.67 311.06 L285.67 311.45 L286.67 311.84 L287.67 312.23 L288.67 312.62 L289.67 313.01 L290.67 313.4 L291.67 313.79 L292.67 314.18 L293.67 314.56 L294.67 314.95 L295.67 315.34 L296.67 315.73 L297.67 316.11 L298.67 316.5 L299.67 316.89 L300.67 317.27 L301.67 317.66 L302.67 318.04 L303.67 318.43 L304.67 318.81 L305.67 319.2 L306.67 319.58 L307.67 319.97 L308.67 320.35 L309.67 320.74 L310.67 321.12 L311.67 321.5 L312.67 321.88 L313.67 322.27 L314.67 322.65 L315.67 323.03 L316.67 323.41 L317.67 323.79 L318.67 324.17 L319.67 324.55 L320.67 324.94 L321.67 325.32 L322.67 325.69 L323.67 326.07 L324.67 326.45 L325.67 326.83 L326.67 327.21 L327.67 327.59 L328.67 327.97 L329.67 328.34 L330.67 328.72 L331.67 329.1 L332.67 329.47 L333.67 329.85 L334.67 330.23 L335.67 330.6 L336.67 330.98 L337.67 331.35 L338.67 331.72 L339.67 332.1 L340.67 332.47 L341.67 332.85 L342.67 333.22 L343.67 333.59 L344.67 333.96 L345.67 334.34 L346.67 334.71 L347.67 335.08 L348.67 335.45 L349.67 335.82 L350.67 336.19 L351.67 336.56 L352.67 336.93 L353.67 337.3 L354.67 337.66 L355.67 338.03 L356.67 338.4 L357.67 338.77 L358.67 339.13 L359.67 339.5 L360.67 339.87 L361.67 340.23 L362.67 340.6 L363.67 340.96 L364.67 341.33 L365.67 341.69 L366.67 342.05 L367.67 342.42 L368.67 342.78 L369.67 343.14 L370.67 343.5 L371.67 343.87 L372.67 344.23 L373.67 344.59 L374.67 344.95 L375.67 345.31 L376.67 345.67 L377.67 346.02 L378.67 346.38 L379.67 346.74 L380.67 347.1 L381.67 347.45 L382.67 347.81 L383.67 348.17 L384.67 348.52 L385.67 348.88 L386.67 349.23 L387.67 349.59 L388.67 349.94 L389.67 350.29 L390.5 350.59" fill="none" stroke="#000" stroke-width="2.0" stroke-dasharray="6.5 2.6"/>
<path d="M411.7 357.95 L412.7 358.29 L413.7 358.63 L414.7 358.97 L415.7 359.31 L416.7 359.65 L417.7 359.99 L418.7 360.32 L419.7 360.66 L420.7 361 L421.7 361.33 L422.7 361.67 L423.7 362.01 L424.7 362.34 L425.7 362.67 L426.7 363.01 L427.7 363.34 L428.7 363.67 L429.7 364 L430.7 364.33 L431.7 364.66 L432.7 364.99 L433.7 365.32 L434.7 365.65 L435.7 365.98 L436.7 366.31 L437.7 366.63 L438.7 366.96 L439.7 367.29 L440.7 367.61 L441.7 367.94 L442.7 368.26 L443.7 368.58 L444.7 368.9 L445.7 369.23 L446.7 369.55 L447.7 369.87 L448.7 370.19 L449.7 370.51 L450.7 370.82 L451.7 371.14 L452.7 371.46 L453.7 371.78 L454.7 372.09 L455.7 372.41 L456.7 372.72 L457.7 373.03 L458.7 373.35 L459.7 373.66 L460.7 373.97 L461.7 374.28 L462.7 374.59 L463.7 374.9 L464.7 375.21 L465.7 375.52 L466.7 375.83 L467.7 376.13 L468.7 376.44 L469.7 376.75 L470.7 377.05 L471.7 377.36 L472.7 377.66 L473.7 377.96 L474.7 378.26 L475.7 378.56 L476.7 378.86 L477.7 379.16 L478.7 379.46 L479.7 379.76 L480.7 380.06 L481.7 380.36 L482.7 380.65 L483.7 380.95 L484.7 381.24 L485.7 381.54 L486.7 381.83 L487.7 382.12 L488.7 382.41 L489.7 382.7 L490.7 382.99 L491.7 383.28 L492.7 383.57 L493.7 383.86 L494.7 384.14 L495.7 384.43 L496.7 384.72 L497.7 385 L498.7 385.28 L499.7 385.57 L500.7 385.85 L501.7 386.13 L502.7 386.41 L503.7 386.69 L504.7 386.97 L505.7 387.25 L506.7 387.53 L507.7 387.8 L508.7 388.08 L509.7 388.35 L510.7 388.63 L511.7 388.9 L512.7 389.17 L513.7 389.45 L514.7 389.72 L515.7 389.99 L516.7 390.26 L517.7 390.52 L518.7 390.79 L519.7 391.06 L520.7 391.33 L521.7 391.59 L522.7 391.85 L523.7 392.12 L524.7 392.38 L525.7 392.64 L526.7 392.9 L527.7 393.16 L528.7 393.42 L529.7 393.68 L530.7 393.94 L531.7 394.2 L532.7 394.45 L533.7 394.71 L534.7 394.96 L535.7 395.21 L536.7 395.47 L537.7 395.72 L538.7 395.97 L539.7 396.22 L540.7 396.47 L541.7 396.72 L542.7 396.96 L543.7 397.21 L544.7 397.46 L545.7 397.7 L546.7 397.94 L547.7 398.19 L548.7 398.43 L549.7 398.67 L550.7 398.91 L551.7 399.15 L552.7 399.39 L553.7 399.63 L554.7 399.86 L555.7 400.1 L556.7 400.34 L557.7 400.57 L558.7 400.8 L559.7 401.04 L560.7 401.27 L561.7 401.5 L562.7 401.73 L563.7 401.96 L564.7 402.19 L565.7 402.41 L566.7 402.64 L567.7 402.86 L568.7 403.09 L569.7 403.31 L570.7 403.54 L571.7 403.76 L572.7 403.98 L573.7 404.2 L574.7 404.42 L575.7 404.64 L576.7 404.85 L577.7 405.07 L578.7 405.29 L579.7 405.5 L580.7 405.71 L581.7 405.93 L582.7 406.14 L583.7 406.35 L584.7 406.56 L585.7 406.77 L586.7 406.98 L587.7 407.19 L588.7 407.39 L589.7 407.6 L590.7 407.8 L591.7 408.01 L592.7 408.21 L593.7 408.41 L594.7 408.61 L595.7 408.82 L596.7 409.01 L597.7 409.21 L598.7 409.41 L599.7 409.61 L600.7 409.8 L601.7 410 L602.7 410.19 L603.7 410.39 L604.7 410.58 L605.7 410.77 L606.7 410.96 L607.7 411.15 L608.7 411.34 L609.7 411.53 L610.7 411.72 L611.7 411.9 L612.7 412.09 L613.7 412.27 L614.7 412.46 L615.7 412.64 L616.7 412.82 L617.7 413 L618.7 413.18 L619.7 413.36 L620.7 413.54 L621.7 413.72 L622.7 413.89 L623.7 414.07 L624.7 414.24 L625.7 414.42 L626.7 414.59 L627.7 414.76 L628.7 414.94 L629.7 415.11 L630.7 415.28 L631.7 415.45 L632.7 415.61 L633.7 415.78 L634.7 415.95 L635.7 416.11 L636.7 416.28 L637.7 416.44 L638.7 416.6 L639.7 416.77 L640.7 416.93 L641.7 417.09 L642.7 417.25 L643.7 417.41 L644.7 417.56 L645.7 417.72 L646.7 417.88 L647.7 418.03 L648.7 418.19 L649.7 418.34 L650.7 418.49 L651.7 418.65 L652.7 418.8 L653.7 418.95 L654.7 419.1 L655.7 419.25 L656.7 419.39 L657.7 419.54 L658.7 419.69 L659.7 419.83 L660.7 419.98 L661.7 420.12 L662.7 420.27 L663.7 420.41 L664.7 420.55 L665.7 420.69 L666.7 420.83 L667.7 420.97 L668.7 421.11 L669.7 421.25 L670.7 421.38 L671.7 421.52 L672.7 421.65 L673.7 421.79 L674.7 421.92 L675.7 422.06 L676.7 422.19 L677.7 422.32 L678.7 422.45 L679.7 422.58 L680.7 422.71 L681.7 422.84 L682.7 422.97 L683.7 423.09 L684.7 423.22 L685.7 423.34 L686.7 423.47 L687.7 423.59 L688.3 423.67" fill="none" stroke="#000" stroke-width="2.0" stroke-dasharray="6.5 2.6"/>
<path d="M72.67 336.52 L73.67 336.94 L74.67 337.35 L75.67 337.77 L76.67 338.18 L77.67 338.6 L78.67 339.01 L79.67 339.43 L80.67 339.85 L81.67 340.26 L82.67 340.68 L83.67 341.09 L84.67 341.51 L85.67 341.92 L86.67 342.34 L87.67 342.75 L88.67 343.17 L89.67 343.58 L90.67 344 L91.67 344.41 L92.67 344.83 L93.67 345.24 L94.67 345.66 L95.67 346.07 L96.67 346.49 L97.67 346.9 L98.67 347.32 L99.67 347.73 L100.67 348.14 L101.67 348.56 L102.67 348.97 L103.67 349.39 L104.67 349.8 L105.67 350.21 L106.67 350.63 L107.67 351.04 L108.67 351.46 L109.67 351.87 L110.67 352.28 L111.67 352.7 L112.67 353.11 L113.67 353.53 L114.67 353.94 L115.67 354.35 L116.67 354.77 L117.67 355.18 L118.67 355.59 L119.67 356.01 L120.67 356.42 L121.67 356.83 L122.67 357.24 L123.67 357.66 L124.67 358.07 L125.67 358.48 L126.67 358.9 L127.67 359.31 L128.67 359.72 L129.67 360.13 L130.67 360.55 L131.67 360.96 L132.67 361.37 L133.67 361.78 L134.67 362.19 L135.67 362.61 L136.67 363.02 L137.67 363.43 L138.67 363.84 L139.67 364.25 L140.67 364.67 L141.67 365.08 L142.67 365.49 L143.67 365.9 L144.67 366.31 L145.67 366.72 L146.67 367.13 L147.67 367.54 L148.67 367.95 L149.67 368.37 L150.67 368.78 L151.67 369.19 L152.67 369.6 L153.67 370.01 L154.67 370.42 L155.67 370.83 L156.67 371.24 L157.67 371.65 L158.67 372.06 L159.67 372.47 L160.67 372.88 L161.67 373.29 L162.67 373.7 L163.67 374.11 L164.67 374.52 L165.67 374.93 L166.67 375.34 L167.67 375.75 L168.67 376.15 L169.67 376.56 L170.67 376.97 L171.67 377.38 L172.67 377.79 L173.67 378.2 L174.67 378.61 L175.67 379.02 L176.67 379.42 L177.67 379.83 L178.67 380.24 L179.67 380.65 L180.67 381.06 L181.67 381.46 L182.67 381.87 L183.67 382.28 L184.67 382.69 L185.67 383.09 L186.67 383.5 L187.67 383.91 L188.67 384.31 L189.67 384.72 L190.67 385.13 L191.67 385.53 L192.67 385.94 L193.67 386.35 L194.67 386.75 L195.67 387.16 L196.67 387.56 L197.67 387.97 L198.67 388.38 L199.67 388.78 L200.67 389.19 L201.67 389.59 L202.67 390 L203.67 390.4 L204.67 390.81 L205.67 391.21 L206.67 391.62 L207.67 392.02 L208.67 392.43 L209.67 392.83 L210.67 393.23 L211.67 393.64 L212.67 394.04 L213.67 394.45 L214.67 394.85 L215.67 395.25 L216.67 395.66 L217.67 396.06 L218.67 396.46 L219.67 396.86 L220.67 397.27 L221.67 397.67 L222.67 398.07 L223.67 398.47 L224.67 398.88 L225.67 399.28 L226.67 399.68 L227.67 400.08 L228.67 400.48 L229.67 400.88 L230.67 401.28 L231.67 401.69 L232.67 402.09 L233.67 402.49 L234.67 402.89 L235.67 403.29 L236.67 403.69 L237.67 404.09 L238.67 404.49 L239.67 404.89 L240.67 405.29 L241.67 405.68 L242.67 406.08 L243.67 406.48 L244.67 406.88 L245.67 407.28 L246.67 407.68 L247.67 408.08 L248.67 408.47 L249.67 408.87 L250.67 409.27 L251.67 409.67 L252.67 410.06 L253.67 410.46 L254.67 410.86 L255.67 411.25 L256.67 411.65 L257.67 412.05 L258.67 412.44 L259.67 412.84 L260.67 413.23 L261.67 413.63 L262.67 414.02 L263.67 414.42 L264.67 414.81 L265.67 415.21 L266.67 415.6 L267.67 416 L268.67 416.39 L269.67 416.78 L270.67 417.18 L271.67 417.57 L272.67 417.96 L273.67 418.36 L274.67 418.75 L275.67 419.14 L276.67 419.53 L277.67 419.93 L278.67 420.32 L279.67 420.71 L280.67 421.1 L281.67 421.49 L282.67 421.88 L283.67 422.27 L284.67 422.66 L285.67 423.05 L286.67 423.44 L287.67 423.83 L288.67 424.22 L289.67 424.61 L290.67 425 L291.67 425.39 L292.67 425.78 L293.67 426.16 L294.67 426.55 L295.67 426.94 L296.67 427.33 L297.67 427.71 L298.67 428.1 L299.67 428.49 L300.67 428.87 L301.67 429.26 L302.67 429.64 L303.67 430.03 L304.67 430.41 L305.67 430.8 L306.67 431.18 L307.67 431.57 L308.67 431.95 L309.67 432.34 L310.67 432.72 L311.67 433.1 L312.67 433.48 L313.67 433.87 L314.67 434.25 L315.67 434.63 L316.67 435.01 L317.67 435.39 L318.67 435.77 L319.67 436.15 L320.67 436.54 L321.67 436.92 L322.67 437.29 L323.67 437.67 L324.67 438.05 L325.67 438.43 L326.67 438.81 L327.67 439.19 L328.67 439.57 L329.67 439.94 L330.67 440.32 L331.67 440.7 L332.67 441.07 L333.67 441.45 L334.67 441.83 L335.67 442.2 L336.67 442.58 L337.67 442.95 L338.67 443.32 L339.67 443.7 L340.67 444.07 L341.67 444.45 L342.67 444.82 L343.67 445.19 L344.67 445.56 L345.67 445.94 L346.67 446.31 L347.67 446.68 L348.67 447.05 L349.67 447.42 L350.67 447.79 L351.67 448.16 L352.67 448.53 L353.67 448.9 L354.67 449.26 L355.67 449.63 L356.67 450 L357.67 450.37 L358.67 450.73 L359.67 451.1 L360.67 451.47 L361.67 451.83 L362.67 452.2 L363.67 452.56 L364.67 452.93 L365.67 453.29 L366.67 453.65 L367.67 454.02 L368.67 454.38 L369.67 454.74 L370.67 455.1 L371.67 455.47 L372.67 455.83 L373.67 456.19 L374.67 456.55 L375.67 456.91 L376.67 457.27 L377.67 457.62 L378.67 457.98 L379.67 458.34 L380.67 458.7 L381.67 459.05 L382.67 459.41 L383.67 459.77 L384.67 460.12 L385.67 460.48 L386.67 460.83 L387.67 461.19" fill="none" stroke="#000" stroke-width="2.0" stroke-dasharray="6.5 2.6"/>
<path d="M72.67 448.12 L73.67 448.54 L74.67 448.95 L75.67 449.37 L76.67 449.78 L77.67 450.2 L78.67 450.61 L79.67 451.03 L80.67 451.45 L81.67 451.86 L82.67 452.28 L83.67 452.69 L84.67 453.11 L85.67 453.52 L86.67 453.94 L87.67 454.35 L88.67 454.77 L89.67 455.18 L90.67 455.6 L91.67 456.01 L92.67 456.43 L93.67 456.84 L94.67 457.26 L95.67 457.67 L96.67 458.09 L97.67 458.5 L98.67 458.92 L99.67 459.33 L100.67 459.74 L101.67 460.16 L102.67 460.57 L103.67 460.99" fill="none" stroke="#000" stroke-width="2.0" stroke-dasharray="6.5 2.6"/>
<text transform="translate(401.8 18.4) rotate(19.13) translate(-18.93 5.04) scale(1.12 1)" font-family="Liberation Serif" font-style="italic" font-size="15.5" fill="#000" stroke="#000" stroke-width="0.3">0.001</text>
<text transform="translate(400.5 129.7) rotate(19.16) translate(-14.59 5.04) scale(1.12 1)" font-family="Liberation Serif" font-style="italic" font-size="15.5" fill="#000" stroke="#000" stroke-width="0.3">0.01</text>
<text transform="translate(400.9 241.6) rotate(19.15) translate(-10.25 5.04) scale(1.12 1)" font-family="Liberation Serif" font-style="italic" font-size="15.5" fill="#000" stroke="#000" stroke-width="0.3">0.1</text>
<text transform="translate(401.6 353.5) rotate(19.13) translate(-3.72 5.12) scale(1.12 1)" font-family="Liberation Serif" font-style="italic" font-size="15.5" fill="#000" stroke="#000" stroke-width="0.3">1</text>
<text transform="translate(267.6 276.5) rotate(-90) translate(-4.73 0) scale(1.12 1)" font-family="Liberation Serif" font-size="16" fill="#ff0000" stroke="#ff0000" stroke-width="0.3">1</text>
<text transform="translate(334 276.7) rotate(-90) translate(-4.65 0) scale(1.12 1)" font-family="Liberation Serif" font-size="16" fill="#ff4500" stroke="#ff4500" stroke-width="0.3">5</text>
<text transform="translate(366 276.45) rotate(-90) translate(-9.41 0) scale(1.12 1)" font-family="Liberation Serif" font-size="16" fill="#e37800" stroke="#e37800" stroke-width="0.3">10</text>
<text transform="translate(396.6 276.8) rotate(-90) translate(-9.01 0) scale(1.12 1)" font-family="Liberation Serif" font-size="16" fill="#228b00" stroke="#228b00" stroke-width="0.3">20</text>
<text transform="translate(440.6 275.9) rotate(-90) translate(-9.14 0) scale(1.12 1)" font-family="Liberation Serif" font-size="16" fill="#1aa31a" stroke="#1aa31a" stroke-width="0.3">50</text>
<text transform="translate(476.1 276.8) rotate(-90) translate(-13.89 0) scale(1.12 1)" font-family="Liberation Serif" font-size="16" fill="#00b300" stroke="#00b300" stroke-width="0.3">100</text>
<circle cx="87.6" cy="58.4" r="3.65" fill="#1f77b4"/>
<circle cx="104.4" cy="66" r="3.65" fill="#1f77b4"/>
<circle cx="116.3" cy="107.4" r="3.65" fill="#1f77b4"/>
<circle cx="79.7" cy="112.6" r="3.65" fill="#1f77b4"/>
<circle cx="85.3" cy="116" r="3.65" fill="#1f77b4"/>
<circle cx="75.9" cy="118.8" r="3.65" fill="#1f77b4"/>
<circle cx="86.2" cy="123.5" r="3.65" fill="#1f77b4"/>
<circle cx="95.6" cy="119.8" r="3.65" fill="#1f77b4"/>
<circle cx="96" cy="124.9" r="3.65" fill="#1f77b4"/>
<circle cx="99.3" cy="126.8" r="3.65" fill="#1f77b4"/>
<circle cx="106.8" cy="133.3" r="3.65" fill="#1f77b4"/>
<circle cx="114.7" cy="132.4" r="3.65" fill="#1f77b4"/>
<circle cx="115.7" cy="137.5" r="3.65" fill="#1f77b4"/>
<circle cx="76.4" cy="130" r="3.65" fill="#1f77b4"/>
<circle cx="96.8" cy="141.5" r="3.65" fill="#1f77b4"/>
<circle cx="103.9" cy="140.8" r="3.65" fill="#1f77b4"/>
<circle cx="77.3" cy="144.3" r="3.65" fill="#1f77b4"/>
<circle cx="84.4" cy="147.1" r="3.65" fill="#1f77b4"/>
<circle cx="85.8" cy="151.4" r="3.65" fill="#1f77b4"/>
<circle cx="92.5" cy="154.2" r="3.65" fill="#1f77b4"/>
<circle cx="104.9" cy="149.5" r="3.65" fill="#1f77b4"/>
<circle cx="120.3" cy="148.1" r="3.65" fill="#1f77b4"/>
<circle cx="119.4" cy="150.9" r="3.65" fill="#1f77b4"/>
<circle cx="131.6" cy="147.1" r="3.65" fill="#1f77b4"/>
<circle cx="126.9" cy="153.2" r="3.65" fill="#1f77b4"/>
<circle cx="72.2" cy="165.8" r="3.65" fill="#1f77b4"/>
<circle cx="77.3" cy="165.8" r="3.65" fill="#1f77b4"/>
<circle cx="79.2" cy="176.1" r="3.65" fill="#1f77b4"/>
<circle cx="83" cy="178" r="3.65" fill="#1f77b4"/>
<circle cx="89" cy="177.1" r="3.65" fill="#1f77b4"/>
<circle cx="111" cy="161.2" r="3.65" fill="#1f77b4"/>
<circle cx="103.5" cy="164.9" r="3.65" fill="#1f77b4"/>
<circle cx="104.4" cy="170" r="3.65" fill="#1f77b4"/>
<circle cx="122.2" cy="168.2" r="3.65" fill="#1f77b4"/>
<circle cx="105.2" cy="179" r="3.65" fill="#1f77b4"/>
<circle cx="96" cy="181.5" r="3.65" fill="#1f77b4"/>
<circle cx="73.1" cy="181.1" r="3.65" fill="#1f77b4"/>
<circle cx="103.5" cy="184.3" r="3.65" fill="#1f77b4"/>
<circle cx="101.2" cy="188.6" r="3.65" fill="#1f77b4"/>
<circle cx="95.6" cy="191.8" r="3.65" fill="#1f77b4"/>
<circle cx="112.9" cy="189" r="3.65" fill="#1f77b4"/>
<circle cx="104.9" cy="200.7" r="3.65" fill="#1f77b4"/>
<circle cx="85.3" cy="195.1" r="3.65" fill="#1f77b4"/>
<circle cx="90.4" cy="197" r="3.65" fill="#1f77b4"/>
<circle cx="82" cy="201.2" r="3.65" fill="#1f77b4"/>
<circle cx="92.3" cy="202.6" r="3.65" fill="#1f77b4"/>
<circle cx="94.6" cy="206.8" r="3.65" fill="#1f77b4"/>
<circle cx="72.2" cy="205.8" r="3.65" fill="#1f77b4"/>
<circle cx="108.2" cy="213.3" r="3.65" fill="#1f77b4"/>
<circle cx="120.8" cy="209.6" r="3.65" fill="#1f77b4"/>
<circle cx="114.7" cy="214.3" r="3.65" fill="#1f77b4"/>
<circle cx="118.9" cy="217.1" r="3.65" fill="#1f77b4"/>
<circle cx="113.8" cy="218" r="3.65" fill="#1f77b4"/>
<circle cx="125.5" cy="201.6" r="3.65" fill="#1f77b4"/>
<circle cx="131.6" cy="196.5" r="3.65" fill="#1f77b4"/>
<circle cx="84.8" cy="222.9" r="3.65" fill="#1f77b4"/>
<circle cx="111.9" cy="239.1" r="3.65" fill="#1f77b4"/>
<circle cx="109.1" cy="243.5" r="3.65" fill="#1f77b4"/>
<circle cx="137.3" cy="125.2" r="3.65" fill="#1f77b4"/>
<circle cx="150.7" cy="126.3" r="3.65" fill="#1f77b4"/>
<circle cx="133.6" cy="144.8" r="3.65" fill="#1f77b4"/>
<circle cx="139.2" cy="150" r="3.65" fill="#1f77b4"/>
<circle cx="180.3" cy="142.5" r="3.65" fill="#1f77b4"/>
<circle cx="155.1" cy="157.9" r="3.65" fill="#1f77b4"/>
<circle cx="155.1" cy="163" r="3.65" fill="#1f77b4"/>
<circle cx="165.4" cy="166.8" r="3.65" fill="#1f77b4"/>
<circle cx="171.9" cy="165.8" r="3.65" fill="#1f77b4"/>
<circle cx="171.5" cy="171.9" r="3.65" fill="#1f77b4"/>
<circle cx="185.9" cy="167.7" r="3.65" fill="#1f77b4"/>
<circle cx="184.1" cy="174.3" r="3.65" fill="#1f77b4"/>
<circle cx="140.6" cy="170" r="3.65" fill="#1f77b4"/>
<circle cx="132.2" cy="175.2" r="3.65" fill="#1f77b4"/>
<circle cx="163.5" cy="176.1" r="3.65" fill="#1f77b4"/>
<circle cx="136.4" cy="179.2" r="3.65" fill="#1f77b4"/>
<circle cx="143.9" cy="179.7" r="3.65" fill="#1f77b4"/>
<circle cx="139.7" cy="186.7" r="3.65" fill="#1f77b4"/>
<circle cx="159.3" cy="195.6" r="3.65" fill="#1f77b4"/>
<circle cx="165.4" cy="191.4" r="3.65" fill="#1f77b4"/>
<circle cx="174.3" cy="190.4" r="3.65" fill="#1f77b4"/>
<circle cx="133.6" cy="203" r="3.65" fill="#1f77b4"/>
<circle cx="150" cy="206.8" r="3.65" fill="#1f77b4"/>
<circle cx="170.5" cy="207.7" r="3.65" fill="#1f77b4"/>
<circle cx="173.8" cy="211" r="3.65" fill="#1f77b4"/>
<circle cx="163.5" cy="215.5" r="3.65" fill="#1f77b4"/>
<circle cx="168.2" cy="216.2" r="3.65" fill="#1f77b4"/>
<circle cx="183.6" cy="204.4" r="3.65" fill="#1f77b4"/>
<circle cx="183.1" cy="213.3" r="3.65" fill="#1f77b4"/>
<circle cx="189.9" cy="214.5" r="3.65" fill="#1f77b4"/>
<circle cx="134.5" cy="220.3" r="3.65" fill="#1f77b4"/>
<circle cx="159.3" cy="220" r="3.65" fill="#1f77b4"/>
<circle cx="180.1" cy="219.5" r="3.65" fill="#1f77b4"/>
<circle cx="132.7" cy="228.6" r="3.65" fill="#1f77b4"/>
<circle cx="144.8" cy="226.7" r="3.65" fill="#1f77b4"/>
<circle cx="156.5" cy="232.3" r="3.65" fill="#1f77b4"/>
<circle cx="165.4" cy="232.6" r="3.65" fill="#1f77b4"/>
<circle cx="172.4" cy="229" r="3.65" fill="#1f77b4"/>
<circle cx="176.1" cy="240.2" r="3.65" fill="#1f77b4"/>
<circle cx="182.7" cy="241.6" r="3.65" fill="#1f77b4"/>
<circle cx="191.6" cy="233.7" r="3.65" fill="#1f77b4"/>
<circle cx="185.9" cy="256.1" r="3.65" fill="#1f77b4"/>
<circle cx="204.8" cy="118.6" r="3.65" fill="#1f77b4"/>
<circle cx="223" cy="122.4" r="3.65" fill="#1f77b4"/>
<circle cx="198.3" cy="144.8" r="3.65" fill="#1f77b4"/>
<circle cx="197.3" cy="150.4" r="3.65" fill="#1f77b4"/>
<circle cx="245.8" cy="159.4" r="3.65" fill="#1f77b4"/>
<circle cx="240.3" cy="167.5" r="3.65" fill="#1f77b4"/>
<circle cx="199.7" cy="164.4" r="3.65" fill="#1f77b4"/>
<circle cx="220.2" cy="162.9" r="3.65" fill="#1f77b4"/>
<circle cx="216.5" cy="166.3" r="3.65" fill="#1f77b4"/>
<circle cx="203.2" cy="178.8" r="3.65" fill="#1f77b4"/>
<circle cx="196.4" cy="181" r="3.65" fill="#1f77b4"/>
<circle cx="237.5" cy="179.2" r="3.65" fill="#1f77b4"/>
<circle cx="250.3" cy="182.2" r="3.65" fill="#1f77b4"/>
<circle cx="205.3" cy="187" r="3.65" fill="#1f77b4"/>
<circle cx="227.3" cy="185.3" r="3.65" fill="#1f77b4"/>
<circle cx="217.9" cy="188.1" r="3.65" fill="#1f77b4"/>
<circle cx="224" cy="192.6" r="3.65" fill="#1f77b4"/>
<circle cx="211.4" cy="205.7" r="3.65" fill="#1f77b4"/>
<circle cx="194.5" cy="200.7" r="3.65" fill="#1f77b4"/>
<circle cx="196.9" cy="211.6" r="3.65" fill="#1f77b4"/>
<circle cx="200.1" cy="223.2" r="3.65" fill="#1f77b4"/>
<circle cx="227.3" cy="223.4" r="3.65" fill="#1f77b4"/>
<circle cx="218.4" cy="224.3" r="3.65" fill="#1f77b4"/>
<circle cx="221.2" cy="226.2" r="3.65" fill="#1f77b4"/>
<circle cx="219.3" cy="232.3" r="3.65" fill="#1f77b4"/>
<circle cx="192.7" cy="234.2" r="3.65" fill="#1f77b4"/>
<circle cx="209.5" cy="238.2" r="3.65" fill="#1f77b4"/>
<circle cx="228.2" cy="236" r="3.65" fill="#1f77b4"/>
<circle cx="234.7" cy="238.4" r="3.65" fill="#1f77b4"/>
<circle cx="222.6" cy="246.8" r="3.65" fill="#1f77b4"/>
<circle cx="184.7" cy="265.2" r="3.65" fill="#1f77b4"/>
<circle cx="224.3" cy="262.9" r="3.65" fill="#1f77b4"/>
<circle cx="169.9" cy="282.8" r="3.65" fill="#1f77b4"/>
<circle cx="187.5" cy="281.7" r="3.65" fill="#1f77b4"/>
<circle cx="210.7" cy="280.7" r="3.65" fill="#1f77b4"/>
<circle cx="232.9" cy="287" r="3.65" fill="#1f77b4"/>
<circle cx="235.3" cy="285.7" r="3.65" fill="#1f77b4"/>
<circle cx="281.5" cy="96.1" r="3.65" fill="#1f77b4"/>
<circle cx="271.6" cy="159.2" r="3.65" fill="#1f77b4"/>
<circle cx="320.8" cy="173.2" r="3.65" fill="#1f77b4"/>
<circle cx="315.3" cy="178.2" r="3.65" fill="#1f77b4"/>
<circle cx="260.1" cy="184.1" r="3.65" fill="#1f77b4"/>
<circle cx="275.3" cy="181.1" r="3.65" fill="#1f77b4"/>
<circle cx="276.7" cy="182.7" r="3.65" fill="#1f77b4"/>
<circle cx="305.5" cy="185.7" r="3.65" fill="#1f77b4"/>
<circle cx="294" cy="195.8" r="3.65" fill="#1f77b4"/>
<circle cx="296.3" cy="197.9" r="3.65" fill="#1f77b4"/>
<circle cx="260.2" cy="209" r="3.65" fill="#1f77b4"/>
<circle cx="286.2" cy="206" r="3.65" fill="#1f77b4"/>
<circle cx="286.2" cy="214.1" r="3.65" fill="#1f77b4"/>
<circle cx="295.6" cy="215.8" r="3.65" fill="#1f77b4"/>
<circle cx="327.6" cy="203.5" r="3.65" fill="#1f77b4"/>
<circle cx="291.3" cy="238.4" r="3.65" fill="#1f77b4"/>
<circle cx="280.3" cy="242.5" r="3.65" fill="#1f77b4"/>
<circle cx="271.7" cy="242.8" r="3.65" fill="#1f77b4"/>
<circle cx="273.3" cy="248.4" r="3.65" fill="#1f77b4"/>
<circle cx="258.6" cy="245.2" r="3.65" fill="#1f77b4"/>
<circle cx="302.2" cy="255.8" r="3.65" fill="#1f77b4"/>
<circle cx="266.5" cy="270.3" r="3.65" fill="#1f77b4"/>
<circle cx="277" cy="272" r="3.65" fill="#1f77b4"/>
<circle cx="269.1" cy="277" r="3.65" fill="#1f77b4"/>
<circle cx="316.3" cy="286" r="3.65" fill="#1f77b4"/>
<circle cx="327.7" cy="243.1" r="3.65" fill="#1f77b4"/>
<circle cx="325" cy="270.5" r="3.65" fill="#1f77b4"/>
<circle cx="350.7" cy="271.1" r="3.65" fill="#1f77b4"/>
<circle cx="400.7" cy="110.3" r="3.65" fill="#1f77b4"/>
<circle cx="363.2" cy="142.8" r="3.65" fill="#1f77b4"/>
<circle cx="370.2" cy="203.7" r="3.65" fill="#1f77b4"/>
<circle cx="372.4" cy="219.4" r="3.65" fill="#1f77b4"/>
<circle cx="393.2" cy="223.1" r="3.65" fill="#1f77b4"/>
<circle cx="466.3" cy="232.2" r="3.65" fill="#1f77b4"/>
<circle cx="404" cy="251.7" r="3.65" fill="#1f77b4"/>
<circle cx="421" cy="256.3" r="3.65" fill="#1f77b4"/>
<circle cx="536.1" cy="251.3" r="3.65" fill="#1f77b4"/>
<circle cx="563.4" cy="254" r="3.65" fill="#1f77b4"/>
<circle cx="363.3" cy="300.4" r="3.65" fill="#1f77b4"/>
<circle cx="400.1" cy="297.6" r="3.65" fill="#1f77b4"/>
<circle cx="375.6" cy="317.1" r="3.65" fill="#1f77b4"/>
<circle cx="435.7" cy="324" r="3.65" fill="#1f77b4"/>
<circle cx="400.7" cy="333.8" r="3.65" fill="#1f77b4"/>
<circle cx="87.3" cy="66.7" r="3.65" fill="#ff7f0e"/>
<circle cx="85.9" cy="93.3" r="3.65" fill="#ff7f0e"/>
<circle cx="100.9" cy="105.3" r="3.65" fill="#ff7f0e"/>
<circle cx="107.7" cy="107.3" r="3.65" fill="#ff7f0e"/>
<circle cx="91.6" cy="111.4" r="3.65" fill="#ff7f0e"/>
<circle cx="82.5" cy="121.6" r="3.65" fill="#ff7f0e"/>
<circle cx="71.7" cy="123" r="3.65" fill="#ff7f0e"/>
<circle cx="88.4" cy="128.2" r="3.65" fill="#ff7f0e"/>
<circle cx="119.4" cy="125.4" r="3.65" fill="#ff7f0e"/>
<circle cx="122.2" cy="129.6" r="3.65" fill="#ff7f0e"/>
<circle cx="130" cy="129" r="3.65" fill="#ff7f0e"/>
<circle cx="122.2" cy="133.3" r="3.65" fill="#ff7f0e"/>
<circle cx="112.9" cy="135.4" r="3.65" fill="#ff7f0e"/>
<circle cx="72.7" cy="131" r="3.65" fill="#ff7f0e"/>
<circle cx="80.6" cy="133.3" r="3.65" fill="#ff7f0e"/>
<circle cx="78.3" cy="135.5" r="3.65" fill="#ff7f0e"/>
<circle cx="78.7" cy="139.7" r="3.65" fill="#ff7f0e"/>
<circle cx="95.1" cy="146" r="3.65" fill="#ff7f0e"/>
<circle cx="108.7" cy="145.3" r="3.65" fill="#ff7f0e"/>
<circle cx="101.6" cy="149" r="3.65" fill="#ff7f0e"/>
<circle cx="100.2" cy="153.2" r="3.65" fill="#ff7f0e"/>
<circle cx="107.7" cy="154.2" r="3.65" fill="#ff7f0e"/>
<circle cx="124.1" cy="156" r="3.65" fill="#ff7f0e"/>
<circle cx="127.8" cy="159.8" r="3.65" fill="#ff7f0e"/>
<circle cx="130.1" cy="163" r="3.65" fill="#ff7f0e"/>
<circle cx="75.5" cy="152.8" r="3.65" fill="#ff7f0e"/>
<circle cx="80.1" cy="156.5" r="3.65" fill="#ff7f0e"/>
<circle cx="75.5" cy="159.3" r="3.65" fill="#ff7f0e"/>
<circle cx="78.3" cy="163" r="3.65" fill="#ff7f0e"/>
<circle cx="80.1" cy="167.2" r="3.65" fill="#ff7f0e"/>
<circle cx="75.5" cy="170.5" r="3.65" fill="#ff7f0e"/>
<circle cx="87.6" cy="167.2" r="3.65" fill="#ff7f0e"/>
<circle cx="87.6" cy="172.4" r="3.65" fill="#ff7f0e"/>
<circle cx="95.1" cy="171.4" r="3.65" fill="#ff7f0e"/>
<circle cx="97" cy="176.1" r="3.65" fill="#ff7f0e"/>
<circle cx="92.3" cy="175.9" r="3.65" fill="#ff7f0e"/>
<circle cx="108.2" cy="164.7" r="3.65" fill="#ff7f0e"/>
<circle cx="118.5" cy="165.8" r="3.65" fill="#ff7f0e"/>
<circle cx="130.1" cy="171.9" r="3.65" fill="#ff7f0e"/>
<circle cx="111" cy="177.5" r="3.65" fill="#ff7f0e"/>
<circle cx="115.5" cy="178.5" r="3.65" fill="#ff7f0e"/>
<circle cx="75.9" cy="185.3" r="3.65" fill="#ff7f0e"/>
<circle cx="116.6" cy="183.4" r="3.65" fill="#ff7f0e"/>
<circle cx="110.1" cy="184.3" r="3.65" fill="#ff7f0e"/>
<circle cx="110.5" cy="188.1" r="3.65" fill="#ff7f0e"/>
<circle cx="122.7" cy="184.3" r="3.65" fill="#ff7f0e"/>
<circle cx="129.2" cy="188.1" r="3.65" fill="#ff7f0e"/>
<circle cx="119.9" cy="191.4" r="3.65" fill="#ff7f0e"/>
<circle cx="111" cy="193.7" r="3.65" fill="#ff7f0e"/>
<circle cx="105.9" cy="195.1" r="3.65" fill="#ff7f0e"/>
<circle cx="98.8" cy="197" r="3.65" fill="#ff7f0e"/>
<circle cx="104.9" cy="197.9" r="3.65" fill="#ff7f0e"/>
<circle cx="103" cy="208.6" r="3.65" fill="#ff7f0e"/>
<circle cx="106.3" cy="219.3" r="3.65" fill="#ff7f0e"/>
<circle cx="128.7" cy="202.1" r="3.65" fill="#ff7f0e"/>
<circle cx="131.8" cy="214.3" r="3.65" fill="#ff7f0e"/>
<circle cx="170.1" cy="111.6" r="3.65" fill="#ff7f0e"/>
<circle cx="151.6" cy="118.4" r="3.65" fill="#ff7f0e"/>
<circle cx="188.6" cy="129.6" r="3.65" fill="#ff7f0e"/>
<circle cx="139.5" cy="135.5" r="3.65" fill="#ff7f0e"/>
<circle cx="136.4" cy="138.4" r="3.65" fill="#ff7f0e"/>
<circle cx="142" cy="138.6" r="3.65" fill="#ff7f0e"/>
<circle cx="147.2" cy="146.4" r="3.65" fill="#ff7f0e"/>
<circle cx="162.1" cy="142" r="3.65" fill="#ff7f0e"/>
<circle cx="161.2" cy="148.1" r="3.65" fill="#ff7f0e"/>
<circle cx="154" cy="152.6" r="3.65" fill="#ff7f0e"/>
<circle cx="183" cy="146" r="3.65" fill="#ff7f0e"/>
<circle cx="160.2" cy="159.5" r="3.65" fill="#ff7f0e"/>
<circle cx="169.6" cy="157.1" r="3.65" fill="#ff7f0e"/>
<circle cx="178.5" cy="161.6" r="3.65" fill="#ff7f0e"/>
<circle cx="150.9" cy="167.2" r="3.65" fill="#ff7f0e"/>
<circle cx="167.3" cy="164.4" r="3.65" fill="#ff7f0e"/>
<circle cx="169.1" cy="166.8" r="3.65" fill="#ff7f0e"/>
<circle cx="188.3" cy="164.9" r="3.65" fill="#ff7f0e"/>
<circle cx="190.1" cy="173.8" r="3.65" fill="#ff7f0e"/>
<circle cx="135" cy="164.9" r="3.65" fill="#ff7f0e"/>
<circle cx="137.3" cy="171" r="3.65" fill="#ff7f0e"/>
<circle cx="138.3" cy="176.1" r="3.65" fill="#ff7f0e"/>
<circle cx="146.2" cy="176.6" r="3.65" fill="#ff7f0e"/>
<circle cx="142" cy="177.1" r="3.65" fill="#ff7f0e"/>
<circle cx="167.3" cy="176.1" r="3.65" fill="#ff7f0e"/>
<circle cx="171.9" cy="175.7" r="3.65" fill="#ff7f0e"/>
<circle cx="175.7" cy="176.6" r="3.65" fill="#ff7f0e"/>
<circle cx="170.1" cy="178.9" r="3.65" fill="#ff7f0e"/>
<circle cx="157.9" cy="181.5" r="3.65" fill="#ff7f0e"/>
<circle cx="163" cy="182.9" r="3.65" fill="#ff7f0e"/>
<circle cx="129.5" cy="188.3" r="3.65" fill="#ff7f0e"/>
<circle cx="149" cy="187.1" r="3.65" fill="#ff7f0e"/>
<circle cx="154.6" cy="189" r="3.65" fill="#ff7f0e"/>
<circle cx="154.6" cy="194.2" r="3.65" fill="#ff7f0e"/>
<circle cx="171" cy="192.3" r="3.65" fill="#ff7f0e"/>
<circle cx="180.8" cy="188.6" r="3.65" fill="#ff7f0e"/>
<circle cx="134.5" cy="194.2" r="3.65" fill="#ff7f0e"/>
<circle cx="140.1" cy="196" r="3.65" fill="#ff7f0e"/>
<circle cx="139.7" cy="200.7" r="3.65" fill="#ff7f0e"/>
<circle cx="128.9" cy="202.1" r="3.65" fill="#ff7f0e"/>
<circle cx="149.5" cy="200.2" r="3.65" fill="#ff7f0e"/>
<circle cx="155.1" cy="201.2" r="3.65" fill="#ff7f0e"/>
<circle cx="153.7" cy="211" r="3.65" fill="#ff7f0e"/>
<circle cx="144.8" cy="213" r="3.65" fill="#ff7f0e"/>
<circle cx="175.7" cy="203" r="3.65" fill="#ff7f0e"/>
<circle cx="176.6" cy="208.6" r="3.65" fill="#ff7f0e"/>
<circle cx="167.3" cy="211" r="3.65" fill="#ff7f0e"/>
<circle cx="184.1" cy="198.8" r="3.65" fill="#ff7f0e"/>
<circle cx="187.8" cy="198.4" r="3.65" fill="#ff7f0e"/>
<circle cx="190.6" cy="202.6" r="3.65" fill="#ff7f0e"/>
<circle cx="184.7" cy="216.9" r="3.65" fill="#ff7f0e"/>
<circle cx="140.1" cy="219.5" r="3.65" fill="#ff7f0e"/>
<circle cx="154.2" cy="220" r="3.65" fill="#ff7f0e"/>
<circle cx="177.1" cy="225.3" r="3.65" fill="#ff7f0e"/>
<circle cx="181.3" cy="228.6" r="3.65" fill="#ff7f0e"/>
<circle cx="186.4" cy="220.6" r="3.65" fill="#ff7f0e"/>
<circle cx="189.7" cy="247.2" r="3.65" fill="#ff7f0e"/>
<circle cx="240.8" cy="143.6" r="3.65" fill="#ff7f0e"/>
<circle cx="203.9" cy="161.6" r="3.65" fill="#ff7f0e"/>
<circle cx="216" cy="169.6" r="3.65" fill="#ff7f0e"/>
<circle cx="207.6" cy="175.6" r="3.65" fill="#ff7f0e"/>
<circle cx="222.4" cy="177.7" r="3.65" fill="#ff7f0e"/>
<circle cx="224" cy="182" r="3.65" fill="#ff7f0e"/>
<circle cx="218.8" cy="190.1" r="3.65" fill="#ff7f0e"/>
<circle cx="231.7" cy="190" r="3.65" fill="#ff7f0e"/>
<circle cx="215.1" cy="200.2" r="3.65" fill="#ff7f0e"/>
<circle cx="224.4" cy="199.5" r="3.65" fill="#ff7f0e"/>
<circle cx="227.7" cy="200" r="3.65" fill="#ff7f0e"/>
<circle cx="234.3" cy="206.8" r="3.65" fill="#ff7f0e"/>
<circle cx="194.5" cy="206.3" r="3.65" fill="#ff7f0e"/>
<circle cx="207.2" cy="213.5" r="3.65" fill="#ff7f0e"/>
<circle cx="212.3" cy="214.5" r="3.65" fill="#ff7f0e"/>
<circle cx="219.8" cy="217.8" r="3.65" fill="#ff7f0e"/>
<circle cx="228.2" cy="218.5" r="3.65" fill="#ff7f0e"/>
<circle cx="229.6" cy="222" r="3.65" fill="#ff7f0e"/>
<circle cx="206.7" cy="233.7" r="3.65" fill="#ff7f0e"/>
<circle cx="210" cy="230.4" r="3.65" fill="#ff7f0e"/>
<circle cx="223" cy="236.5" r="3.65" fill="#ff7f0e"/>
<circle cx="234.3" cy="236" r="3.65" fill="#ff7f0e"/>
<circle cx="237.5" cy="241.2" r="3.65" fill="#ff7f0e"/>
<circle cx="243.6" cy="231.8" r="3.65" fill="#ff7f0e"/>
<circle cx="252.8" cy="231.2" r="3.65" fill="#ff7f0e"/>
<circle cx="241.3" cy="250.5" r="3.65" fill="#ff7f0e"/>
<circle cx="157" cy="282.8" r="3.65" fill="#ff7f0e"/>
<circle cx="205.9" cy="281.7" r="3.65" fill="#ff7f0e"/>
<circle cx="272.8" cy="158.6" r="3.65" fill="#ff7f0e"/>
<circle cx="285.1" cy="154.9" r="3.65" fill="#ff7f0e"/>
<circle cx="268.4" cy="172.1" r="3.65" fill="#ff7f0e"/>
<circle cx="325.5" cy="169.2" r="3.65" fill="#ff7f0e"/>
<circle cx="268.4" cy="184.6" r="3.65" fill="#ff7f0e"/>
<circle cx="315.3" cy="184.4" r="3.65" fill="#ff7f0e"/>
<circle cx="331.2" cy="189.5" r="3.65" fill="#ff7f0e"/>
<circle cx="264.1" cy="190.8" r="3.65" fill="#ff7f0e"/>
<circle cx="267.8" cy="195.8" r="3.65" fill="#ff7f0e"/>
<circle cx="277.2" cy="194.8" r="3.65" fill="#ff7f0e"/>
<circle cx="275.5" cy="199.5" r="3.65" fill="#ff7f0e"/>
<circle cx="290.3" cy="198" r="3.65" fill="#ff7f0e"/>
<circle cx="296" cy="210" r="3.65" fill="#ff7f0e"/>
<circle cx="314.6" cy="222.7" r="3.65" fill="#ff7f0e"/>
<circle cx="258.8" cy="231.6" r="3.65" fill="#ff7f0e"/>
<circle cx="270.9" cy="237" r="3.65" fill="#ff7f0e"/>
<circle cx="288.5" cy="234.1" r="3.65" fill="#ff7f0e"/>
<circle cx="280.3" cy="239.8" r="3.65" fill="#ff7f0e"/>
<circle cx="253.7" cy="260.6" r="3.65" fill="#ff7f0e"/>
<circle cx="283.8" cy="266" r="3.65" fill="#ff7f0e"/>
<circle cx="303.3" cy="279.5" r="3.65" fill="#ff7f0e"/>
<circle cx="341.4" cy="233.3" r="3.65" fill="#ff7f0e"/>
<circle cx="332.4" cy="244" r="3.65" fill="#ff7f0e"/>
<circle cx="329.1" cy="260.8" r="3.65" fill="#ff7f0e"/>
<circle cx="328.3" cy="274.3" r="3.65" fill="#ff7f0e"/>
<circle cx="335.9" cy="278.7" r="3.65" fill="#ff7f0e"/>
<circle cx="344.4" cy="274.8" r="3.65" fill="#ff7f0e"/>
<circle cx="370.2" cy="166.2" r="3.65" fill="#ff7f0e"/>
<circle cx="474.9" cy="125.4" r="3.65" fill="#ff7f0e"/>
<circle cx="394.6" cy="210.3" r="3.65" fill="#ff7f0e"/>
<circle cx="414.3" cy="201.6" r="3.65" fill="#ff7f0e"/>
<circle cx="368.8" cy="223.3" r="3.65" fill="#ff7f0e"/>
<circle cx="366.5" cy="227" r="3.65" fill="#ff7f0e"/>
<circle cx="371.6" cy="233.1" r="3.65" fill="#ff7f0e"/>
<circle cx="435.9" cy="231.2" r="3.65" fill="#ff7f0e"/>
<circle cx="432.3" cy="247.1" r="3.65" fill="#ff7f0e"/>
<circle cx="415.3" cy="282.2" r="3.65" fill="#ff7f0e"/>
<circle cx="437.5" cy="287.8" r="3.65" fill="#ff7f0e"/>
<circle cx="319.5" cy="336.2" r="3.65" fill="#ff7f0e"/>
<circle cx="407" cy="305.4" r="3.65" fill="#ff7f0e"/>
<circle cx="384.9" cy="334.2" r="3.65" fill="#ff7f0e"/>
</g>
<line x1="72.67" y1="1.25" x2="72.67" y2="457.25" stroke="#000" stroke-width="1.35" stroke-linecap="square"/>
<line x1="685.3" y1="1.25" x2="685.3" y2="457.25" stroke="#000" stroke-width="1.35" stroke-linecap="square"/>
<line x1="72.67" y1="1.25" x2="685.3" y2="1.25" stroke="#000" stroke-width="1.35" stroke-linecap="square"/>
<line x1="72.67" y1="457.25" x2="685.3" y2="457.25" stroke="#000" stroke-width="1.45" stroke-linecap="square"/>
<line x1="125.5" y1="457.25" x2="125.5" y2="460.55" stroke="#000" stroke-width="1.1"/>
<line x1="177.5" y1="457.25" x2="177.5" y2="460.55" stroke="#000" stroke-width="1.1"/>
<line x1="230.5" y1="457.25" x2="230.5" y2="460.55" stroke="#000" stroke-width="1.1"/>
<line x1="283.5" y1="457.25" x2="283.5" y2="460.55" stroke="#000" stroke-width="1.1"/>
<line x1="336.5" y1="457.25" x2="336.5" y2="463.05" stroke="#000" stroke-width="1.35"/>
<line x1="389.5" y1="457.25" x2="389.5" y2="460.55" stroke="#000" stroke-width="1.1"/>
<line x1="442.5" y1="457.25" x2="442.5" y2="460.55" stroke="#000" stroke-width="1.1"/>
<line x1="495.5" y1="457.25" x2="495.5" y2="460.55" stroke="#000" stroke-width="1.1"/>
<line x1="548.5" y1="457.25" x2="548.5" y2="460.55" stroke="#000" stroke-width="1.1"/>
<line x1="601.5" y1="457.25" x2="601.5" y2="463.05" stroke="#000" stroke-width="1.35"/>
<line x1="654.5" y1="457.25" x2="654.5" y2="460.55" stroke="#000" stroke-width="1.1"/>
<line x1="69.37" y1="455.5" x2="72.67" y2="455.5" stroke="#000" stroke-width="1.1"/>
<line x1="69.37" y1="432.5" x2="72.67" y2="432.5" stroke="#000" stroke-width="1.1"/>
<line x1="69.37" y1="410.5" x2="72.67" y2="410.5" stroke="#000" stroke-width="1.1"/>
<line x1="66.87" y1="388.5" x2="72.67" y2="388.5" stroke="#000" stroke-width="1.35"/>
<line x1="69.37" y1="365.5" x2="72.67" y2="365.5" stroke="#000" stroke-width="1.1"/>
<line x1="69.37" y1="343.5" x2="72.67" y2="343.5" stroke="#000" stroke-width="1.1"/>
<line x1="69.37" y1="321.5" x2="72.67" y2="321.5" stroke="#000" stroke-width="1.1"/>
<line x1="69.37" y1="298.5" x2="72.67" y2="298.5" stroke="#000" stroke-width="1.1"/>
<line x1="66.87" y1="276.5" x2="72.67" y2="276.5" stroke="#000" stroke-width="1.35"/>
<line x1="69.37" y1="254.5" x2="72.67" y2="254.5" stroke="#000" stroke-width="1.1"/>
<line x1="69.37" y1="231.5" x2="72.67" y2="231.5" stroke="#000" stroke-width="1.1"/>
<line x1="69.37" y1="209.5" x2="72.67" y2="209.5" stroke="#000" stroke-width="1.1"/>
<line x1="69.37" y1="187.5" x2="72.67" y2="187.5" stroke="#000" stroke-width="1.1"/>
<line x1="66.87" y1="165.5" x2="72.67" y2="165.5" stroke="#000" stroke-width="1.35"/>
<line x1="69.37" y1="142.5" x2="72.67" y2="142.5" stroke="#000" stroke-width="1.1"/>
<line x1="69.37" y1="120.5" x2="72.67" y2="120.5" stroke="#000" stroke-width="1.1"/>
<line x1="69.37" y1="98.5" x2="72.67" y2="98.5" stroke="#000" stroke-width="1.1"/>
<line x1="69.37" y1="75.5" x2="72.67" y2="75.5" stroke="#000" stroke-width="1.1"/>
<line x1="66.87" y1="53.5" x2="72.67" y2="53.5" stroke="#000" stroke-width="1.35"/>
<line x1="69.37" y1="31.5" x2="72.67" y2="31.5" stroke="#000" stroke-width="1.1"/>
<line x1="69.37" y1="8.5" x2="72.67" y2="8.5" stroke="#000" stroke-width="1.1"/>
<text transform="translate(30.01 60) scale(1.1441 1)" font-family="Liberation Serif" font-size="19.3" fill="#000" stroke="#000" stroke-width="0.3">10</text>
<text transform="translate(52.76 53.5) scale(1.1253 1)" font-family="Liberation Serif" font-size="13" fill="#000" stroke="#000" stroke-width="0.3">4</text>
<text transform="translate(30.01 171.6) scale(1.1441 1)" font-family="Liberation Serif" font-size="19.3" fill="#000" stroke="#000" stroke-width="0.3">10</text>
<text transform="translate(52.37 165.1) scale(1.0987 1)" font-family="Liberation Serif" font-size="13" fill="#000" stroke="#000" stroke-width="0.3">3</text>
<text transform="translate(30.01 283.2) scale(1.1441 1)" font-family="Liberation Serif" font-size="19.3" fill="#000" stroke="#000" stroke-width="0.3">10</text>
<text transform="translate(52.46 276.7) scale(1.0362 1)" font-family="Liberation Serif" font-size="13" fill="#000" stroke="#000" stroke-width="0.3">2</text>
<text transform="translate(30.01 394.8) scale(1.1441 1)" font-family="Liberation Serif" font-size="19.3" fill="#000" stroke="#000" stroke-width="0.3">10</text>
<text transform="translate(51.88 388.3) scale(1.0269 1)" font-family="Liberation Serif" font-size="13" fill="#000" stroke="#000" stroke-width="0.3">1</text>
<text transform="translate(316.2 481.9) scale(1.1501 1)" font-family="Liberation Serif" font-size="19.3" fill="#000" stroke="#000" stroke-width="0.3">10</text>
<text transform="translate(339.3 475.7) scale(1.1572 1)" font-family="Liberation Serif" font-size="13" fill="#000" stroke="#000" stroke-width="0.3">−</text>
<text transform="translate(348.3 475.7) scale(1.0925 1)" font-family="Liberation Serif" font-size="13" fill="#000" stroke="#000" stroke-width="0.3">1</text>
<text transform="translate(585.9 481.9) scale(1.1501 1)" font-family="Liberation Serif" font-size="19.3" fill="#000" stroke="#000" stroke-width="0.3">10</text>
<text transform="translate(608.42 476.2) scale(1.0236 1)" font-family="Liberation Serif" font-size="13.6" fill="#000" stroke="#000" stroke-width="0.3">0</text>
<text transform="translate(370.98 510.92) scale(0.9870 1)" font-family="Liberation Serif" font-style="italic" font-size="29.5" fill="#000" stroke="#000" stroke-width="0.3">α</text>
<text transform="translate(18 259.4) rotate(-90) translate(0.43 0) scale(1.0907 1)" font-family="Liberation Serif" font-style="italic" font-size="24.5" fill="#000" stroke="#000" stroke-width="0.3">β</text>
<text transform="translate(18 259.4) rotate(-90) translate(13.9 0) scale(1.3151 1)" font-family="Liberation Serif" font-size="26" fill="#000" stroke="#000" stroke-width="0.3">/</text>
<text transform="translate(18 259.4) rotate(-90) translate(23.68 0) scale(1.0137 1)" font-family="Liberation Serif" font-style="italic" font-size="26" fill="#000" stroke="#000" stroke-width="0.3">H</text>
<text transform="translate(24.1 259.4) rotate(-90) translate(45.61 0) scale(0.9241 1)" font-family="Liberation Serif" font-size="22" fill="#000" stroke="#000" stroke-width="0.3">*</text>
<rect x="80.7" y="392.3" width="293.5" height="56.9" rx="3.3" fill="#fff" fill-opacity="0.86" stroke="#ccc" stroke-opacity="0.86" stroke-width="1.6"/>
<circle cx="105.3" cy="406.5" r="3.6" fill="#1f77b4"/>
<circle cx="105.3" cy="431.9" r="3.6" fill="#ff7f0e"/>
<text transform="translate(136.25 413.1) scale(1.1449 1)" font-family="Liberation Serif" font-size="18.3" fill="#000" stroke="#000" stroke-width="0.3">Not</text>
<text transform="translate(173.59 413.1) scale(1.2128 1)" font-family="Liberation Serif" font-size="18.3" fill="#000" stroke="#000" stroke-width="0.3">probed</text>
<text transform="translate(241.55 413.1) scale(1.0862 1)" font-family="Liberation Serif" font-size="18.3" fill="#000" stroke="#000" stroke-width="0.3">by</text>
<text transform="translate(267.29 413.1) scale(1.0663 1)" font-family="Liberation Serif" font-size="18.3" fill="#000" stroke="#000" stroke-width="0.3">HL-LHC</text>
<text transform="translate(136.83 437.9) scale(1.0081 1)" font-family="Liberation Serif" font-size="18.3" fill="#000" stroke="#000" stroke-width="0.3">Will</text>
<text transform="translate(175.65 437.9) scale(1.1961 1)" font-family="Liberation Serif" font-size="18.3" fill="#000" stroke="#000" stroke-width="0.3">be</text>
<text transform="translate(202.5 437.9) scale(1.1949 1)" font-family="Liberation Serif" font-size="18.3" fill="#000" stroke="#000" stroke-width="0.3">probed</text>
<text transform="translate(269.45 437.9) scale(1.0862 1)" font-family="Liberation Serif" font-size="18.3" fill="#000" stroke="#000" stroke-width="0.3">by</text>
<text transform="translate(295.49 437.9) scale(1.0648 1)" font-family="Liberation Serif" font-size="18.3" fill="#000" stroke="#000" stroke-width="0.3">HL-LHC</text>
</svg>
</body></html>
